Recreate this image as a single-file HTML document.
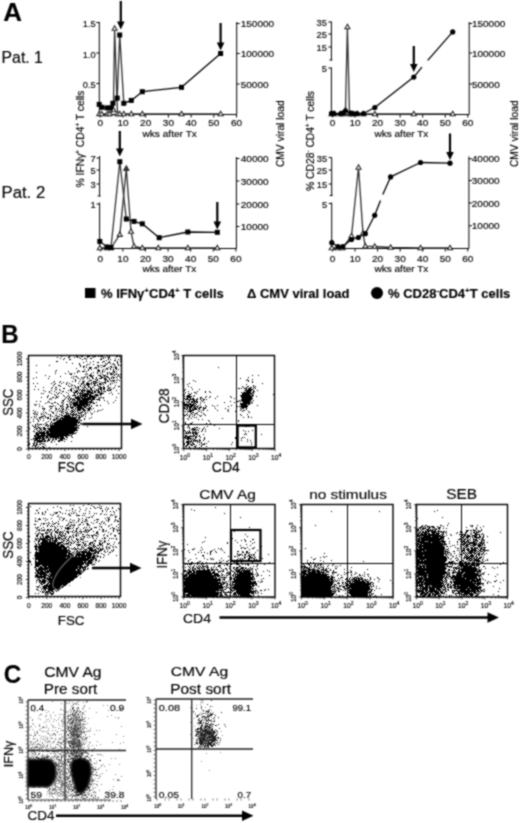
<!DOCTYPE html><html><head><meta charset="utf-8"><style>html,body{margin:0;padding:0;background:#fff;}svg{display:block;filter:grayscale(1)}text{font-family:"Liberation Sans",sans-serif;stroke:#000;stroke-width:0.15px}</style></head><body>
<svg width="520" height="823" viewBox="0 0 520 823">
<defs><filter id="b4" x="-5%" y="-5%" width="110%" height="110%"><feGaussianBlur stdDeviation="0.4"/></filter><filter id="b6" x="-5%" y="-5%" width="110%" height="110%"><feGaussianBlur stdDeviation="0.6"/></filter><filter id="b10" x="-10%" y="-10%" width="120%" height="120%"><feGaussianBlur stdDeviation="1.0"/></filter></defs>
<filter id="soft" color-interpolation-filters="sRGB" filterUnits="userSpaceOnUse" x="0" y="0" width="520" height="823"><feConvolveMatrix order="3" kernelMatrix="1 2 1 2 6 2 1 2 1" divisor="18" edgeMode="duplicate"/></filter>
<rect width="520" height="823" fill="#fff"/>
<g filter="url(#soft)"><rect width="520" height="823" fill="#fff"/>
<text transform="translate(3.25,20.50) scale(1.006,1)" font-size="25.81" font-weight="bold" >A</text>
<text transform="translate(1.60,62.90) scale(0.949,1)" font-size="16.63" >Pat. 1</text>
<text transform="translate(1.52,197.90) scale(0.973,1)" font-size="17.20" >Pat. 2</text>
<line x1="99.3" y1="22" x2="99.3" y2="114.5" stroke="#000" stroke-width="1" />
<line x1="236.7" y1="22" x2="236.7" y2="114.5" stroke="#000" stroke-width="1" />
<line x1="96.3" y1="22.5" x2="99.3" y2="22.5" stroke="#000" stroke-width="1" />
<text transform="translate(95.80,27.10) scale(1.0,1)" font-size="9.3" text-anchor="end">1.5</text>
<line x1="96.3" y1="53" x2="99.3" y2="53" stroke="#000" stroke-width="1" />
<text transform="translate(95.80,57.60) scale(1.0,1)" font-size="9.3" text-anchor="end">1.0</text>
<line x1="96.3" y1="83.5" x2="99.3" y2="83.5" stroke="#000" stroke-width="1" />
<text transform="translate(95.80,88.10) scale(1.0,1)" font-size="9.3" text-anchor="end">0.5</text>
<line x1="236.7" y1="23.5" x2="239.7" y2="23.5" stroke="#000" stroke-width="1" />
<text transform="translate(240.70,27.00) scale(1.08,1)" font-size="9.3" text-anchor="start">150000</text>
<line x1="236.7" y1="53.5" x2="239.7" y2="53.5" stroke="#000" stroke-width="1" />
<text transform="translate(240.70,57.00) scale(1.08,1)" font-size="9.3" text-anchor="start">100000</text>
<line x1="236.7" y1="84" x2="239.7" y2="84" stroke="#000" stroke-width="1" />
<text transform="translate(240.70,87.50) scale(1.08,1)" font-size="9.3" text-anchor="start">50000</text>
<line x1="99.3" y1="114.5" x2="236.7" y2="114.5" stroke="#000" stroke-width="1" />
<line x1="100.3" y1="114.5" x2="100.3" y2="117.5" stroke="#000" stroke-width="1" />
<text transform="translate(100.30,126.20) scale(1.08,1)" font-size="9.3" text-anchor="middle">0</text>
<line x1="123.0" y1="114.5" x2="123.0" y2="117.5" stroke="#000" stroke-width="1" />
<text transform="translate(123.00,126.20) scale(1.08,1)" font-size="9.3" text-anchor="middle">10</text>
<line x1="145.7" y1="114.5" x2="145.7" y2="117.5" stroke="#000" stroke-width="1" />
<text transform="translate(145.70,126.20) scale(1.08,1)" font-size="9.3" text-anchor="middle">20</text>
<line x1="168.39999999999998" y1="114.5" x2="168.39999999999998" y2="117.5" stroke="#000" stroke-width="1" />
<text transform="translate(168.40,126.20) scale(1.08,1)" font-size="9.3" text-anchor="middle">30</text>
<line x1="191.1" y1="114.5" x2="191.1" y2="117.5" stroke="#000" stroke-width="1" />
<text transform="translate(191.10,126.20) scale(1.08,1)" font-size="9.3" text-anchor="middle">40</text>
<line x1="213.8" y1="114.5" x2="213.8" y2="117.5" stroke="#000" stroke-width="1" />
<text transform="translate(213.80,126.20) scale(1.08,1)" font-size="9.3" text-anchor="middle">50</text>
<line x1="236.5" y1="114.5" x2="236.5" y2="117.5" stroke="#000" stroke-width="1" />
<text transform="translate(236.50,126.20) scale(1.08,1)" font-size="9.3" text-anchor="middle">60</text>
<text transform="translate(142.43,137.20) scale(1.081,1)" font-size="9.40" >wks after Tx</text>
<polyline points="99.3,114.0 101.6,114.0 107.5,114.0 109.6,114.0 113.4,110.0 114.6,28.5 117.5,114.0 119.7,114.0 123.8,114.0 131.3,114.0 142.3,114.0 181.5,114.0 220.6,114.0" fill="none" stroke="#303030" stroke-width="1.3" stroke-linejoin="round" />
<path d="M99.3 111.3L101.8 115.8L96.8 115.8Z" fill="#fff" stroke="#222" stroke-width="1.1"/>
<path d="M101.6 111.3L104.1 115.8L99.1 115.8Z" fill="#fff" stroke="#222" stroke-width="1.1"/>
<path d="M107.5 111.3L110.0 115.8L105.0 115.8Z" fill="#fff" stroke="#222" stroke-width="1.1"/>
<path d="M109.6 111.3L112.1 115.8L107.1 115.8Z" fill="#fff" stroke="#222" stroke-width="1.1"/>
<path d="M113.4 107.3L115.9 111.8L110.9 111.8Z" fill="#fff" stroke="#222" stroke-width="1.1"/>
<path d="M114.6 25.8L117.1 30.3L112.1 30.3Z" fill="#fff" stroke="#222" stroke-width="1.1"/>
<path d="M117.5 111.3L120.0 115.8L115.0 115.8Z" fill="#fff" stroke="#222" stroke-width="1.1"/>
<path d="M119.7 111.3L122.2 115.8L117.2 115.8Z" fill="#fff" stroke="#222" stroke-width="1.1"/>
<path d="M123.8 111.3L126.3 115.8L121.3 115.8Z" fill="#fff" stroke="#222" stroke-width="1.1"/>
<path d="M131.3 111.3L133.8 115.8L128.8 115.8Z" fill="#fff" stroke="#222" stroke-width="1.1"/>
<path d="M142.3 111.3L144.8 115.8L139.8 115.8Z" fill="#fff" stroke="#222" stroke-width="1.1"/>
<path d="M181.5 111.3L184.0 115.8L179.0 115.8Z" fill="#fff" stroke="#222" stroke-width="1.1"/>
<path d="M220.6 111.3L223.1 115.8L218.1 115.8Z" fill="#fff" stroke="#222" stroke-width="1.1"/>
<polyline points="99.2,104.4 101.9,107.3 107.1,107.9 110.6,107.9 112.9,103.3 117.2,98.1" fill="none" stroke="#000" stroke-width="1.2" stroke-linejoin="round" />
<polyline points="117.2,98.1 119.7,35.0 123.8,103.3" fill="none" stroke="#303030" stroke-width="1.3" stroke-linejoin="round" />
<polyline points="123.8,103.3 131.3,100.4 142.3,91.7 181.5,87.3 220.6,53.5" fill="none" stroke="#000" stroke-width="1.3" stroke-linejoin="round" />
<rect x="96.7" y="101.9" width="5" height="5" fill="#000"/>
<rect x="99.4" y="104.8" width="5" height="5" fill="#000"/>
<rect x="104.6" y="105.4" width="5" height="5" fill="#000"/>
<rect x="108.1" y="105.4" width="5" height="5" fill="#000"/>
<rect x="110.4" y="100.8" width="5" height="5" fill="#000"/>
<rect x="114.7" y="95.6" width="5" height="5" fill="#000"/>
<rect x="117.2" y="32.5" width="5" height="5" fill="#000"/>
<rect x="121.3" y="100.8" width="5" height="5" fill="#000"/>
<rect x="128.8" y="97.9" width="5" height="5" fill="#000"/>
<rect x="139.8" y="89.2" width="5" height="5" fill="#000"/>
<rect x="179.0" y="84.8" width="5" height="5" fill="#000"/>
<rect x="218.1" y="51.0" width="5" height="5" fill="#000"/>
<line x1="120.8" y1="1" x2="120.8" y2="22.5" stroke="#000" stroke-width="2.2" />
<path d="M117.0 21.5L124.6 21.5L120.8 29.5Z" fill="#000"/>
<line x1="220.6" y1="23" x2="220.6" y2="43.5" stroke="#000" stroke-width="2.2" />
<path d="M216.8 42.5L224.4 42.5L220.6 50.5Z" fill="#000"/>
<line x1="331.4" y1="21.5" x2="331.4" y2="60" stroke="#000" stroke-width="1" />
<line x1="329.4" y1="60" x2="332.4" y2="60" stroke="#000" stroke-width="1" />
<line x1="331.4" y1="67.5" x2="331.4" y2="114.5" stroke="#000" stroke-width="1" />
<line x1="469.2" y1="22" x2="469.2" y2="114.5" stroke="#000" stroke-width="1" />
<line x1="328.4" y1="22" x2="331.4" y2="22" stroke="#000" stroke-width="1" />
<text transform="translate(326.90,26.20) scale(1.0,1)" font-size="9.3" text-anchor="end">35</text>
<line x1="328.4" y1="34" x2="331.4" y2="34" stroke="#000" stroke-width="1" />
<text transform="translate(326.90,38.20) scale(1.0,1)" font-size="9.3" text-anchor="end">25</text>
<line x1="328.4" y1="47" x2="331.4" y2="47" stroke="#000" stroke-width="1" />
<text transform="translate(326.90,51.20) scale(1.0,1)" font-size="9.3" text-anchor="end">15</text>
<line x1="328.4" y1="68" x2="331.4" y2="68" stroke="#000" stroke-width="1" />
<text transform="translate(326.90,72.20) scale(1.0,1)" font-size="9.3" text-anchor="end">5</text>
<line x1="469.2" y1="23.5" x2="472.2" y2="23.5" stroke="#000" stroke-width="1" />
<text transform="translate(471.90,27.00) scale(1.08,1)" font-size="9.3" text-anchor="start">150000</text>
<line x1="469.2" y1="53" x2="472.2" y2="53" stroke="#000" stroke-width="1" />
<text transform="translate(471.90,56.50) scale(1.08,1)" font-size="9.3" text-anchor="start">100000</text>
<line x1="469.2" y1="84" x2="472.2" y2="84" stroke="#000" stroke-width="1" />
<text transform="translate(471.90,87.50) scale(1.08,1)" font-size="9.3" text-anchor="start">50000</text>
<line x1="331.4" y1="114.5" x2="469.2" y2="114.5" stroke="#000" stroke-width="1" />
<line x1="332.5" y1="114.5" x2="332.5" y2="117.5" stroke="#000" stroke-width="1" />
<text transform="translate(332.50,126.20) scale(1.08,1)" font-size="9.3" text-anchor="middle">0</text>
<line x1="355.05" y1="114.5" x2="355.05" y2="117.5" stroke="#000" stroke-width="1" />
<text transform="translate(355.05,126.20) scale(1.08,1)" font-size="9.3" text-anchor="middle">10</text>
<line x1="377.6" y1="114.5" x2="377.6" y2="117.5" stroke="#000" stroke-width="1" />
<text transform="translate(377.60,126.20) scale(1.08,1)" font-size="9.3" text-anchor="middle">20</text>
<line x1="400.15" y1="114.5" x2="400.15" y2="117.5" stroke="#000" stroke-width="1" />
<text transform="translate(400.15,126.20) scale(1.08,1)" font-size="9.3" text-anchor="middle">30</text>
<line x1="422.7" y1="114.5" x2="422.7" y2="117.5" stroke="#000" stroke-width="1" />
<text transform="translate(422.70,126.20) scale(1.08,1)" font-size="9.3" text-anchor="middle">40</text>
<line x1="445.25" y1="114.5" x2="445.25" y2="117.5" stroke="#000" stroke-width="1" />
<text transform="translate(445.25,126.20) scale(1.08,1)" font-size="9.3" text-anchor="middle">50</text>
<line x1="467.79999999999995" y1="114.5" x2="467.79999999999995" y2="117.5" stroke="#000" stroke-width="1" />
<text transform="translate(467.80,126.20) scale(1.08,1)" font-size="9.3" text-anchor="middle">60</text>
<text transform="translate(374.43,137.20) scale(1.069,1)" font-size="9.40" >wks after Tx</text>
<polyline points="331.5,114.0 334.0,114.0 340.8,114.0 343.0,114.0 345.5,110.0 347.4,27.0 349.5,114.0 351.0,114.0 353.0,114.0 357.0,114.0 363.5,114.0 374.8,114.0 413.8,114.0 452.7,114.0" fill="none" stroke="#303030" stroke-width="1.3" stroke-linejoin="round" />
<path d="M331.5 111.3L334.0 115.8L329.0 115.8Z" fill="#fff" stroke="#222" stroke-width="1.1"/>
<path d="M334.0 111.3L336.5 115.8L331.5 115.8Z" fill="#fff" stroke="#222" stroke-width="1.1"/>
<path d="M340.8 111.3L343.3 115.8L338.3 115.8Z" fill="#fff" stroke="#222" stroke-width="1.1"/>
<path d="M343.0 111.3L345.5 115.8L340.5 115.8Z" fill="#fff" stroke="#222" stroke-width="1.1"/>
<path d="M345.5 107.3L348.0 111.8L343.0 111.8Z" fill="#fff" stroke="#222" stroke-width="1.1"/>
<path d="M347.4 24.3L349.9 28.8L344.9 28.8Z" fill="#fff" stroke="#222" stroke-width="1.1"/>
<path d="M349.5 111.3L352.0 115.8L347.0 115.8Z" fill="#fff" stroke="#222" stroke-width="1.1"/>
<path d="M351.0 111.3L353.5 115.8L348.5 115.8Z" fill="#fff" stroke="#222" stroke-width="1.1"/>
<path d="M353.0 111.3L355.5 115.8L350.5 115.8Z" fill="#fff" stroke="#222" stroke-width="1.1"/>
<path d="M357.0 111.3L359.5 115.8L354.5 115.8Z" fill="#fff" stroke="#222" stroke-width="1.1"/>
<path d="M363.5 111.3L366.0 115.8L361.0 115.8Z" fill="#fff" stroke="#222" stroke-width="1.1"/>
<path d="M374.8 111.3L377.3 115.8L372.3 115.8Z" fill="#fff" stroke="#222" stroke-width="1.1"/>
<path d="M413.8 111.3L416.3 115.8L411.3 115.8Z" fill="#fff" stroke="#222" stroke-width="1.1"/>
<path d="M452.7 111.3L455.2 115.8L450.2 115.8Z" fill="#fff" stroke="#222" stroke-width="1.1"/>
<polyline points="331.5,113.4 333.8,113.4 340.8,113.6 343.0,113.0 345.4,111.0 350.8,113.0 353.0,113.5 357.0,113.5 363.5,113.5 374.8,107.5 413.8,77.1" fill="none" stroke="#000" stroke-width="1.3" stroke-linejoin="round" />
<polyline points="413.8,77.1 421.9,67.1" fill="none" stroke="#000" stroke-width="1.3" stroke-linejoin="round" />
<polyline points="427.7,60.4 452.7,31.9" fill="none" stroke="#000" stroke-width="1.3" stroke-linejoin="round" />
<circle cx="331.5" cy="113.4" r="2.6" fill="#000"/>
<circle cx="333.8" cy="113.4" r="2.6" fill="#000"/>
<circle cx="340.8" cy="113.6" r="2.6" fill="#000"/>
<circle cx="343.0" cy="113.0" r="2.6" fill="#000"/>
<circle cx="345.4" cy="111.0" r="2.6" fill="#000"/>
<circle cx="350.8" cy="113.0" r="2.6" fill="#000"/>
<circle cx="353.0" cy="113.5" r="2.6" fill="#000"/>
<circle cx="357.0" cy="113.5" r="2.6" fill="#000"/>
<circle cx="363.5" cy="113.5" r="2.6" fill="#000"/>
<circle cx="374.8" cy="107.5" r="2.6" fill="#000"/>
<circle cx="413.8" cy="77.1" r="2.6" fill="#000"/>
<circle cx="452.7" cy="31.9" r="2.6" fill="#000"/>
<line x1="413.8" y1="46" x2="413.8" y2="65" stroke="#000" stroke-width="2.2" />
<path d="M410.0 64.0L417.6 64.0L413.8 72.0Z" fill="#000"/>
<line x1="99.6" y1="156" x2="99.6" y2="196" stroke="#000" stroke-width="1" />
<line x1="97.6" y1="196" x2="100.6" y2="196" stroke="#000" stroke-width="1" />
<line x1="99.6" y1="202.5" x2="99.6" y2="248.5" stroke="#000" stroke-width="1" />
<line x1="236.4" y1="157" x2="236.4" y2="248.5" stroke="#000" stroke-width="1" />
<line x1="96.6" y1="158" x2="99.6" y2="158" stroke="#000" stroke-width="1" />
<text transform="translate(95.60,162.20) scale(1.0,1)" font-size="9.3" text-anchor="end">7</text>
<line x1="96.6" y1="170" x2="99.6" y2="170" stroke="#000" stroke-width="1" />
<text transform="translate(95.60,174.20) scale(1.0,1)" font-size="9.3" text-anchor="end">5</text>
<line x1="96.6" y1="184" x2="99.6" y2="184" stroke="#000" stroke-width="1" />
<text transform="translate(95.60,188.20) scale(1.0,1)" font-size="9.3" text-anchor="end">3</text>
<line x1="96.6" y1="204" x2="99.6" y2="204" stroke="#000" stroke-width="1" />
<text transform="translate(95.60,208.20) scale(1.0,1)" font-size="9.3" text-anchor="end">1</text>
<line x1="236.4" y1="158.5" x2="239.4" y2="158.5" stroke="#000" stroke-width="1" />
<text transform="translate(240.80,162.00) scale(1.08,1)" font-size="9.3" text-anchor="start">40000</text>
<line x1="236.4" y1="181" x2="239.4" y2="181" stroke="#000" stroke-width="1" />
<text transform="translate(240.80,184.50) scale(1.08,1)" font-size="9.3" text-anchor="start">30000</text>
<line x1="236.4" y1="204" x2="239.4" y2="204" stroke="#000" stroke-width="1" />
<text transform="translate(240.80,207.50) scale(1.08,1)" font-size="9.3" text-anchor="start">20000</text>
<line x1="236.4" y1="226.5" x2="239.4" y2="226.5" stroke="#000" stroke-width="1" />
<text transform="translate(240.80,230.00) scale(1.08,1)" font-size="9.3" text-anchor="start">10000</text>
<line x1="99.6" y1="248.5" x2="236.4" y2="248.5" stroke="#000" stroke-width="1" />
<line x1="100.3" y1="248.5" x2="100.3" y2="251.5" stroke="#000" stroke-width="1" />
<text transform="translate(100.30,261.60) scale(1.08,1)" font-size="9.3" text-anchor="middle">0</text>
<line x1="122.89999999999999" y1="248.5" x2="122.89999999999999" y2="251.5" stroke="#000" stroke-width="1" />
<text transform="translate(122.90,261.60) scale(1.08,1)" font-size="9.3" text-anchor="middle">10</text>
<line x1="145.5" y1="248.5" x2="145.5" y2="251.5" stroke="#000" stroke-width="1" />
<text transform="translate(145.50,261.60) scale(1.08,1)" font-size="9.3" text-anchor="middle">20</text>
<line x1="168.1" y1="248.5" x2="168.1" y2="251.5" stroke="#000" stroke-width="1" />
<text transform="translate(168.10,261.60) scale(1.08,1)" font-size="9.3" text-anchor="middle">30</text>
<line x1="190.7" y1="248.5" x2="190.7" y2="251.5" stroke="#000" stroke-width="1" />
<text transform="translate(190.70,261.60) scale(1.08,1)" font-size="9.3" text-anchor="middle">40</text>
<line x1="213.29999999999998" y1="248.5" x2="213.29999999999998" y2="251.5" stroke="#000" stroke-width="1" />
<text transform="translate(213.30,261.60) scale(1.08,1)" font-size="9.3" text-anchor="middle">50</text>
<line x1="235.89999999999998" y1="248.5" x2="235.89999999999998" y2="251.5" stroke="#000" stroke-width="1" />
<text transform="translate(235.90,261.60) scale(1.08,1)" font-size="9.3" text-anchor="middle">60</text>
<text transform="translate(142.43,271.80) scale(1.067,1)" font-size="9.40" >wks after Tx</text>
<polyline points="99.8,248.0 107.0,248.0 111.0,248.0 119.8,234.6 126.3,168.5 131.0,231.5 134.0,246.3 142.3,248.0 158.3,248.0 187.8,248.0 217.3,248.0" fill="none" stroke="#303030" stroke-width="1.3" stroke-linejoin="round" />
<path d="M99.8 245.3L102.3 249.8L97.3 249.8Z" fill="#fff" stroke="#222" stroke-width="1.1"/>
<path d="M107.0 245.3L109.5 249.8L104.5 249.8Z" fill="#fff" stroke="#222" stroke-width="1.1"/>
<path d="M111.0 245.3L113.5 249.8L108.5 249.8Z" fill="#fff" stroke="#222" stroke-width="1.1"/>
<path d="M119.8 231.9L122.3 236.4L117.3 236.4Z" fill="#fff" stroke="#222" stroke-width="1.1"/>
<path d="M126.3 165.8L128.8 170.3L123.8 170.3Z" fill="#fff" stroke="#222" stroke-width="1.1"/>
<path d="M131.0 228.8L133.5 233.3L128.5 233.3Z" fill="#fff" stroke="#222" stroke-width="1.1"/>
<path d="M134.0 243.6L136.5 248.1L131.5 248.1Z" fill="#fff" stroke="#222" stroke-width="1.1"/>
<path d="M142.3 245.3L144.8 249.8L139.8 249.8Z" fill="#fff" stroke="#222" stroke-width="1.1"/>
<path d="M158.3 245.3L160.8 249.8L155.8 249.8Z" fill="#fff" stroke="#222" stroke-width="1.1"/>
<path d="M187.8 245.3L190.3 249.8L185.3 249.8Z" fill="#fff" stroke="#222" stroke-width="1.1"/>
<path d="M217.3 245.3L219.8 249.8L214.8 249.8Z" fill="#fff" stroke="#222" stroke-width="1.1"/>
<path d="M126.3 165.8L129 171L123.6 171Z" fill="#333"/>
<polyline points="99.8,241.4 107.0,247.0 111.0,247.5" fill="none" stroke="#000" stroke-width="1.2" stroke-linejoin="round" />
<polyline points="111.0,247.5 119.8,161.7 126.3,219.0" fill="none" stroke="#303030" stroke-width="1.3" stroke-linejoin="round" />
<polyline points="126.3,219.0 134.0,221.4 142.3,223.8 159.2,237.7 187.8,232.0 217.3,232.3" fill="none" stroke="#000" stroke-width="1.3" stroke-linejoin="round" />
<rect x="97.3" y="238.9" width="5" height="5" fill="#000"/>
<rect x="104.5" y="244.5" width="5" height="5" fill="#000"/>
<rect x="108.5" y="245.0" width="5" height="5" fill="#000"/>
<rect x="117.3" y="159.2" width="5" height="5" fill="#000"/>
<rect x="123.8" y="216.5" width="5" height="5" fill="#000"/>
<rect x="131.5" y="218.9" width="5" height="5" fill="#000"/>
<rect x="139.8" y="221.3" width="5" height="5" fill="#000"/>
<rect x="156.7" y="235.2" width="5" height="5" fill="#000"/>
<rect x="185.3" y="229.5" width="5" height="5" fill="#000"/>
<rect x="214.8" y="229.8" width="5" height="5" fill="#000"/>
<line x1="119.8" y1="131" x2="119.8" y2="149.5" stroke="#000" stroke-width="2.2" />
<path d="M116.0 148.5L123.6 148.5L119.8 156.5Z" fill="#000"/>
<line x1="217.3" y1="202" x2="217.3" y2="222.5" stroke="#000" stroke-width="2.2" />
<path d="M213.5 221.5L221.1 221.5L217.3 229.5Z" fill="#000"/>
<line x1="331.7" y1="157.5" x2="331.7" y2="195.5" stroke="#000" stroke-width="1" />
<line x1="329.7" y1="195.5" x2="332.7" y2="195.5" stroke="#000" stroke-width="1" />
<line x1="331.7" y1="202.5" x2="331.7" y2="248.5" stroke="#000" stroke-width="1" />
<line x1="468.9" y1="156.5" x2="468.9" y2="248.5" stroke="#000" stroke-width="1" />
<line x1="328.7" y1="157.5" x2="331.7" y2="157.5" stroke="#000" stroke-width="1" />
<text transform="translate(327.20,161.70) scale(1.0,1)" font-size="9.3" text-anchor="end">35</text>
<line x1="328.7" y1="170" x2="331.7" y2="170" stroke="#000" stroke-width="1" />
<text transform="translate(327.20,174.20) scale(1.0,1)" font-size="9.3" text-anchor="end">25</text>
<line x1="328.7" y1="184" x2="331.7" y2="184" stroke="#000" stroke-width="1" />
<text transform="translate(327.20,188.20) scale(1.0,1)" font-size="9.3" text-anchor="end">15</text>
<line x1="328.7" y1="203.5" x2="331.7" y2="203.5" stroke="#000" stroke-width="1" />
<text transform="translate(327.20,207.70) scale(1.0,1)" font-size="9.3" text-anchor="end">5</text>
<line x1="468.9" y1="158.75" x2="471.9" y2="158.75" stroke="#000" stroke-width="1" />
<text transform="translate(471.80,162.25) scale(1.08,1)" font-size="9.3" text-anchor="start">40000</text>
<line x1="468.9" y1="180.5" x2="471.9" y2="180.5" stroke="#000" stroke-width="1" />
<text transform="translate(471.80,184.00) scale(1.08,1)" font-size="9.3" text-anchor="start">30000</text>
<line x1="468.9" y1="203" x2="471.9" y2="203" stroke="#000" stroke-width="1" />
<text transform="translate(471.80,206.50) scale(1.08,1)" font-size="9.3" text-anchor="start">20000</text>
<line x1="468.9" y1="225.75" x2="471.9" y2="225.75" stroke="#000" stroke-width="1" />
<text transform="translate(471.80,229.25) scale(1.08,1)" font-size="9.3" text-anchor="start">10000</text>
<line x1="331.7" y1="248.5" x2="468.9" y2="248.5" stroke="#000" stroke-width="1" />
<line x1="332.5" y1="248.5" x2="332.5" y2="251.5" stroke="#000" stroke-width="1" />
<text transform="translate(332.50,261.60) scale(1.08,1)" font-size="9.3" text-anchor="middle">0</text>
<line x1="355.05" y1="248.5" x2="355.05" y2="251.5" stroke="#000" stroke-width="1" />
<text transform="translate(355.05,261.60) scale(1.08,1)" font-size="9.3" text-anchor="middle">10</text>
<line x1="377.6" y1="248.5" x2="377.6" y2="251.5" stroke="#000" stroke-width="1" />
<text transform="translate(377.60,261.60) scale(1.08,1)" font-size="9.3" text-anchor="middle">20</text>
<line x1="400.15" y1="248.5" x2="400.15" y2="251.5" stroke="#000" stroke-width="1" />
<text transform="translate(400.15,261.60) scale(1.08,1)" font-size="9.3" text-anchor="middle">30</text>
<line x1="422.7" y1="248.5" x2="422.7" y2="251.5" stroke="#000" stroke-width="1" />
<text transform="translate(422.70,261.60) scale(1.08,1)" font-size="9.3" text-anchor="middle">40</text>
<line x1="445.25" y1="248.5" x2="445.25" y2="251.5" stroke="#000" stroke-width="1" />
<text transform="translate(445.25,261.60) scale(1.08,1)" font-size="9.3" text-anchor="middle">50</text>
<line x1="467.79999999999995" y1="248.5" x2="467.79999999999995" y2="251.5" stroke="#000" stroke-width="1" />
<text transform="translate(467.80,261.60) scale(1.08,1)" font-size="9.3" text-anchor="middle">60</text>
<text transform="translate(374.43,271.80) scale(1.069,1)" font-size="9.40" >wks after Tx</text>
<polyline points="331.8,248.0 337.5,248.0 342.5,248.0 351.5,236.0 358.5,167.5 363.0,233.4 365.3,246.2 374.7,246.5 390.6,247.5 420.5,248.0 450.0,248.0" fill="none" stroke="#303030" stroke-width="1.3" stroke-linejoin="round" />
<path d="M331.8 245.3L334.2 249.8L329.2 249.8Z" fill="#fff" stroke="#222" stroke-width="1.1"/>
<path d="M337.5 245.3L340.0 249.8L335.0 249.8Z" fill="#fff" stroke="#222" stroke-width="1.1"/>
<path d="M342.5 245.3L345.0 249.8L340.0 249.8Z" fill="#fff" stroke="#222" stroke-width="1.1"/>
<path d="M351.5 233.3L354.0 237.8L349.0 237.8Z" fill="#fff" stroke="#222" stroke-width="1.1"/>
<path d="M358.5 164.8L361.0 169.3L356.0 169.3Z" fill="#fff" stroke="#222" stroke-width="1.1"/>
<path d="M363.0 230.7L365.5 235.2L360.5 235.2Z" fill="#fff" stroke="#222" stroke-width="1.1"/>
<path d="M365.3 243.5L367.8 248.0L362.8 248.0Z" fill="#fff" stroke="#222" stroke-width="1.1"/>
<path d="M374.7 243.8L377.2 248.3L372.2 248.3Z" fill="#fff" stroke="#222" stroke-width="1.1"/>
<path d="M390.6 244.8L393.1 249.3L388.1 249.3Z" fill="#fff" stroke="#222" stroke-width="1.1"/>
<path d="M420.5 245.3L423.0 249.8L418.0 249.8Z" fill="#fff" stroke="#222" stroke-width="1.1"/>
<path d="M450.0 245.3L452.5 249.8L447.5 249.8Z" fill="#fff" stroke="#222" stroke-width="1.1"/>
<polyline points="331.8,242.7 338.0,246.5 342.8,246.5 351.5,239.5 358.3,237.5 365.3,233.7 374.7,215.3" fill="none" stroke="#000" stroke-width="1.3" stroke-linejoin="round" />
<polyline points="374.7,215.3 380.5,200.5" fill="none" stroke="#000" stroke-width="1.3" stroke-linejoin="round" />
<polyline points="382.8,194.5 390.6,176.9 420.5,162.5 450.0,163.2" fill="none" stroke="#000" stroke-width="1.3" stroke-linejoin="round" />
<circle cx="331.8" cy="242.7" r="2.6" fill="#000"/>
<circle cx="338.0" cy="246.5" r="2.6" fill="#000"/>
<circle cx="342.8" cy="246.5" r="2.6" fill="#000"/>
<circle cx="351.5" cy="239.5" r="2.6" fill="#000"/>
<circle cx="358.3" cy="237.5" r="2.6" fill="#000"/>
<circle cx="365.3" cy="233.7" r="2.6" fill="#000"/>
<circle cx="374.7" cy="215.3" r="2.6" fill="#000"/>
<circle cx="390.6" cy="176.9" r="2.6" fill="#000"/>
<circle cx="420.5" cy="162.5" r="2.6" fill="#000"/>
<circle cx="450.0" cy="163.2" r="2.6" fill="#000"/>
<line x1="450" y1="133.5" x2="450" y2="153" stroke="#000" stroke-width="2.2" />
<path d="M446.2 152.0L453.8 152.0L450.0 160.0Z" fill="#000"/>
<text transform="translate(84,139) rotate(-90) scale(0.986,1)" font-size="10.5" text-anchor="middle">% IFN&#947;<tspan font-size="6.3" dy="-4">+</tspan><tspan dy="4"> CD4</tspan><tspan font-size="6.3" dy="-4">+</tspan><tspan dy="4"> T cells</tspan></text>
<text transform="translate(314.3,141) rotate(-90) scale(0.983,1)" font-size="10.5" text-anchor="middle">% CD28<tspan font-size="6.3" dy="-4">-</tspan><tspan dy="4"> CD4</tspan><tspan font-size="6.3" dy="-4">+</tspan><tspan dy="4"> T cells</tspan></text>
<text transform="translate(283.60,167.11) rotate(-90) scale(0.988,1)" font-size="10.40" >CMV viral load</text>
<text transform="translate(518.00,167.11) rotate(-90) scale(0.988,1)" font-size="10.40" >CMV viral load</text>
<rect x="85" y="288" width="10.5" height="10" fill="#000"/>
<text x="101" y="298" font-size="13" font-weight="bold">% IFN&#947;<tspan font-size="8" dy="-5">+</tspan><tspan dy="5">CD4</tspan><tspan font-size="8" dy="-5">+</tspan><tspan dy="5"> T cells</tspan></text>
<text x="247" y="298" font-size="13" font-weight="bold">&#916; CMV viral load</text>
<circle cx="377" cy="293" r="6" fill="#000"/>
<text x="388" y="298" font-size="13" font-weight="bold">% CD28<tspan font-size="8" dy="-5">-</tspan><tspan dy="5">CD4</tspan><tspan font-size="8" dy="-5">+</tspan><tspan dy="5">T cells</tspan></text>
<text transform="translate(1.27,342.50) scale(0.939,1)" font-size="25.66" font-weight="bold" >B</text>
<text transform="translate(3.63,683.00) scale(0.930,1)" font-size="26.09" font-weight="bold" >C</text>
<path d="M61 356h1m7 0h1m6 0h2m3 0h2m4 0h3m2 0h1m1 0h2m2 0h1m1 0h3m4 0h1m1 0h1m6 0h2m1 0h1m-63 1h1m10 0h2m4 0h1m2 0h1m1 0h1m7 0h1m5 0h1m9 0h1m1 0h1m2 0h2m10 0h1m-61 1h1m3 0h1m15 0h1m3 0h2m4 0h2m9 0h1m1 0h1m4 0h1m6 0h1m-53 1h1m5 0h2m11 0h1m3 0h1m13 0h2m6 0h1m1 0h1m7 0h1m1 0h1m-15 1h1m7 0h2m-60 1h2m28 0h1m6 0h1m9 0h2m4 0h1m7 0h1m2 0h1m-55 1h1m16 0h1m6 0h1m6 0h2m3 0h1m5 0h2m7 0h1m-46 1h1m6 0h1m25 0h1m1 0h1m2 0h1m2 0h1m3 0h1m-39 1h1m7 0h1m1 0h1m3 0h1m12 0h1m5 0h1m1 0h1m3 0h1m-83 1h1m12 0h1m30 0h1m5 0h1m10 0h2m1 0h1m1 0h1m1 0h2m8 0h1m3 0h1m1 0h1m-41 1h1m2 0h2m13 0h1m4 0h2m5 0h2m3 0h1m-33 1h1m2 0h1m2 0h3m3 0h2m1 0h1m2 0h1m6 0h1m2 0h1m1 0h1m1 0h2m-41 1h1m12 0h2m3 0h1m1 0h1m9 0h2m2 0h1m4 0h2m-33 1h1m3 0h1m2 0h1m6 0h1m4 0h1m1 0h1m1 0h1m2 0h1m2 0h1m2 0h1m1 0h1m-63 1h1m21 0h1m9 0h1m8 0h3m2 0h1m10 0h1m-59 1h1m12 0h1m8 0h1m1 0h1m2 0h3m1 0h1m11 0h2m2 0h1m1 0h1m8 0h2m1 0h1m-81 1h1m40 0h1m15 0h1m3 0h1m4 0h1m4 0h1m1 0h1m2 0h1m1 0h1m-60 1h1m9 0h1m3 0h1m1 0h1m2 0h1m11 0h1m4 0h1m5 0h1m2 0h1m6 0h1m2 0h2m1 0h1m2 0h1m-47 1h2m13 0h1m1 0h1m2 0h1m11 0h1m4 0h1m2 0h3m1 0h1m1 0h1m1 0h1m1 0h1m-76 1h1m43 0h3m1 0h1m4 0h3m2 0h3m8 0h1m3 0h1m-70 1h1m10 0h1m12 0h1m1 0h2m8 0h1m1 0h1m2 0h3m7 0h2m2 0h1m1 0h2m4 0h1m4 0h1m1 0h1m-84 1h1m34 0h1m5 0h1m3 0h1m1 0h2m2 0h1m4 0h1m3 0h1m4 0h3m1 0h1m1 0h2m2 0h1m1 0h2m1 0h1m3 0h1m-88 1h1m14 0h1m24 0h1m4 0h1m3 0h1m4 0h1m1 0h1m2 0h2m2 0h1m2 0h3m2 0h2m3 0h1m1 0h1m1 0h1m-39 1h1m4 0h1m2 0h1m11 0h1m1 0h1m6 0h3m2 0h1m7 0h1m-43 1h1m13 0h3m4 0h2m7 0h1m1 0h1m2 0h1m1 0h3m1 0h1m2 0h1m-66 1h1m5 0h1m11 0h1m2 0h1m3 0h1m2 0h3m3 0h1m4 0h3m3 0h1m5 0h1m1 0h2m2 0h1m1 0h1m-61 1h1m5 0h1m3 0h1m3 0h1m15 0h1m3 0h1m3 0h1m1 0h1m1 0h3m3 0h1m1 0h3m8 0h1m1 0h1m-84 1h1m3 0h1m13 0h1m3 0h1m5 0h1m4 0h1m2 0h1m8 0h1m2 0h3m2 0h4m1 0h1m1 0h3m3 0h2m1 0h1m2 0h1m4 0h1m1 0h1m-59 1h1m11 0h1m4 0h1m9 0h1m2 0h1m1 0h4m1 0h1m2 0h1m2 0h1m1 0h3m1 0h1m6 0h1m-58 1h1m4 0h2m8 0h1m3 0h1m1 0h1m5 0h1m2 0h1m1 0h1m1 0h2m5 0h2m1 0h1m10 0h1m6 0h1m-81 1h1m24 0h1m8 0h1m1 0h1m3 0h1m2 0h1m1 0h1m3 0h1m3 0h2m3 0h1m4 0h3m2 0h1m3 0h1m10 0h2m-77 1h1m8 0h1m2 0h2m18 0h1m1 0h2m3 0h1m1 0h2m2 0h1m1 0h1m1 0h1m7 0h2m1 0h2m3 0h1m1 0h1m3 0h1m-64 1h1m11 0h2m6 0h1m1 0h1m2 0h1m1 0h1m4 0h1m2 0h1m3 0h2m2 0h1m3 0h4m1 0h2m3 0h2m3 0h1m-80 1h1m3 0h1m16 0h2m2 0h1m10 0h2m6 0h1m1 0h1m1 0h1m1 0h1m2 0h1m2 0h2m4 0h1m1 0h1m1 0h2m1 0h2m2 0h1m2 0h2m-69 1h1m7 0h1m8 0h1m7 0h1m1 0h2m2 0h1m1 0h2m1 0h1m1 0h5m1 0h3m1 0h2m1 0h1m1 0h3m2 0h1m5 0h4m5 0h1m-72 1h1m3 0h1m4 0h1m7 0h2m7 0h1m3 0h3m3 0h2m1 0h1m1 0h5m1 0h1m1 0h2m2 0h2m1 0h1m1 0h3m-57 1h1m6 0h1m2 0h1m6 0h1m6 0h4m1 0h1m1 0h1m1 0h2m3 0h6m1 0h2m1 0h3m1 0h1m9 0h1m-71 1h1m1 0h1m7 0h1m6 0h1m2 0h1m6 0h1m5 0h1m2 0h1m1 0h4m1 0h5m1 0h4m5 0h5m5 0h1m8 0h1m-65 1h1m2 0h1m16 0h1m2 0h1m2 0h1m1 0h9m4 0h3m2 0h2m10 0h1m-65 1h1m6 0h1m7 0h1m4 0h1m3 0h4m3 0h9m1 0h4m1 0h5m1 0h1m-54 1h1m8 0h1m1 0h1m5 0h1m2 0h1m1 0h1m5 0h1m1 0h2m1 0h1m1 0h6m1 0h6m1 0h1m-56 1h1m5 0h1m4 0h2m2 0h2m8 0h1m2 0h1m5 0h8m1 0h2m1 0h9m2 0h1m1 0h2m1 0h1m12 0h1m-67 1h1m4 0h1m9 0h1m2 0h1m1 0h2m1 0h1m1 0h5m1 0h10m1 0h3m4 0h1m3 0h1m-55 1h1m1 0h1m12 0h1m3 0h1m1 0h1m1 0h3m2 0h4m1 0h13m1 0h4m-38 1h2m5 0h1m2 0h1m1 0h2m1 0h12m2 0h2m6 0h1m4 0h1m10 0h1m-80 1h1m3 0h1m7 0h1m14 0h1m3 0h1m1 0h1m1 0h1m1 0h1m2 0h2m1 0h9m1 0h3m15 0h1m-61 1h1m1 0h1m4 0h2m5 0h2m7 0h2m1 0h21m2 0h1m16 0h1m-69 1h1m5 0h2m4 0h1m5 0h1m5 0h1m2 0h6m1 0h9m2 0h1m2 0h2m13 0h1m-75 1h1m1 0h1m2 0h1m18 0h1m3 0h1m3 0h2m2 0h2m1 0h17m-55 1h1m17 0h1m6 0h1m1 0h1m4 0h1m2 0h1m2 0h12m1 0h2m1 0h1m1 0h1m4 0h2m2 0h1m-62 1h1m2 0h1m6 0h4m2 0h1m4 0h2m1 0h1m3 0h2m1 0h1m1 0h1m1 0h2m1 0h5m1 0h4m1 0h1m2 0h1m-30 1h1m3 0h2m2 0h4m2 0h7m1 0h2m3 0h2m-49 1h3m5 0h2m3 0h2m2 0h1m1 0h1m1 0h1m2 0h1m4 0h2m2 0h1m1 0h7m2 0h5m2 0h1m-50 1h1m11 0h1m1 0h1m3 0h2m2 0h1m1 0h1m4 0h1m1 0h1m1 0h4m1 0h3m3 0h2m1 0h1m10 0h1m-70 1h1m9 0h1m5 0h1m5 0h1m4 0h1m1 0h1m2 0h1m5 0h2m1 0h1m2 0h4m2 0h3m1 0h3m8 0h1m1 0h1m-66 1h1m15 0h1m5 0h1m1 0h1m1 0h1m1 0h1m3 0h1m2 0h1m1 0h2m1 0h1m1 0h1m4 0h1m1 0h1m9 0h1m2 0h1m-64 1h1m2 0h1m5 0h1m1 0h1m6 0h2m7 0h2m2 0h2m4 0h2m1 0h1m3 0h1m1 0h3m2 0h1m1 0h1m2 0h1m-58 1h1m1 0h1m5 0h1m4 0h1m6 0h1m2 0h1m6 0h1m2 0h3m1 0h1m2 0h1m2 0h1m1 0h3m4 0h1m6 0h1m-59 1h1m1 0h2m3 0h1m1 0h1m4 0h1m1 0h1m8 0h1m1 0h1m4 0h1m1 0h1m1 0h7m4 0h1m1 0h1m1 0h1m5 0h1m-48 1h1m5 0h1m4 0h2m4 0h2m1 0h6m2 0h2m1 0h1m1 0h3m1 0h1m1 0h1m-50 1h1m1 0h1m4 0h3m1 0h1m4 0h1m1 0h1m4 0h3m3 0h8m1 0h1m3 0h1m2 0h1m1 0h2m2 0h1m-55 1h1m2 0h1m4 0h3m3 0h1m1 0h2m5 0h1m1 0h1m4 0h2m1 0h13m1 0h3m10 0h1m-56 1h1m2 0h1m3 0h1m3 0h2m1 0h1m5 0h3m1 0h16m2 0h2m4 0h1m4 0h1m-57 1h1m3 0h1m2 0h1m9 0h1m2 0h4m2 0h2m1 0h16m1 0h1m4 0h1m-47 1h1m4 0h1m9 0h2m2 0h22m1 0h2m-49 1h1m4 0h1m9 0h1m2 0h1m4 0h22m1 0h1m-50 1h1m15 0h1m4 0h1m2 0h26m-43 1h1m7 0h1m4 0h1m1 0h25m1 0h1m1 0h2m-47 1h1m1 0h1m1 0h3m1 0h1m2 0h2m2 0h1m1 0h1m1 0h23m4 0h1m-50 1h1m2 0h1m2 0h1m6 0h2m1 0h1m1 0h30m-47 1h1m1 0h1m1 0h1m9 0h2m1 0h25m1 0h1m10 0h1m-54 1h2m2 0h2m1 0h1m1 0h2m5 0h29m-50 1h1m6 0h2m1 0h2m2 0h3m1 0h30m1 0h1m-45 1h1m1 0h1m3 0h2m1 0h3m2 0h29m-40 1h1m1 0h1m1 0h1m3 0h1m1 0h1m1 0h29m-45 1h2m3 0h2m1 0h1m1 0h2m1 0h29m-39 1h2m1 0h6m1 0h3m1 0h24m2 0h1m-42 1h41m-40 1h3m2 0h4m2 0h22m1 0h1m1 0h1m-39 1h36m1 0h1m-38 1h2m1 0h8m1 0h2m1 0h15m1 0h2m4 0h1m-37 1h6m1 0h2m1 0h4m1 0h9m1 0h4m2 0h2m4 0h1m-40 1h12m1 0h1m1 0h1m1 0h1m2 0h1m1 0h2m1 0h7m-34 1h1m1 0h1m1 0h3m1 0h1m2 0h3m3 0h2m2 0h2m1 0h2m3 0h3m1 0h1m1 0h1m-33 1h9m1 0h2m1 0h3m2 0h1m5 0h5m-29 1h1m2 0h9m1 0h1m3 0h1m2 0h1m3 0h2m4 0h1m6 0h1m-38 1h1m1 0h2m1 0h2m10 0h1m-23 1h1m3 0h2m1 0h1m4 0h2m1 0h1m-16 1h1m3 0h1m2 0h2m1 0h2m2 0h1m12 0h1m-24 1h4m8 0h1m-14 1h1m2 0h1m2 0h1m3 0h2m-9 1h1m1 0h1m2 0h1m2 0h2m4 0h1" stroke="#000" stroke-width="1" fill="none" transform="translate(0 .5)" shape-rendering="crispEdges"/>
<rect x="28.5" y="355.5" width="93.0" height="93.0" fill="none" stroke="#000" stroke-width="1.4"/>
<path d="M28.8 448.5L28.8 451.1M25.9 449.0L28.5 449.0M32.4 448.5L32.4 450.1M26.9 445.4L28.5 445.4M36.0 448.5L36.0 450.1M26.9 441.8L28.5 441.8M39.6 448.5L39.6 450.1M26.9 438.2L28.5 438.2M43.2 448.5L43.2 450.1M26.9 434.6L28.5 434.6M46.8 448.5L46.8 451.1M25.9 431.0L28.5 431.0M50.4 448.5L50.4 450.1M26.9 427.4L28.5 427.4M54.1 448.5L54.1 450.1M26.9 423.8L28.5 423.8M57.7 448.5L57.7 450.1M26.9 420.2L28.5 420.2M61.3 448.5L61.3 450.1M26.9 416.6L28.5 416.6M64.9 448.5L64.9 451.1M25.9 413.0L28.5 413.0M68.5 448.5L68.5 450.1M26.9 409.4L28.5 409.4M72.1 448.5L72.1 450.1M26.9 405.8L28.5 405.8M75.7 448.5L75.7 450.1M26.9 402.2L28.5 402.2M79.3 448.5L79.3 450.1M26.9 398.6L28.5 398.6M82.9 448.5L82.9 451.1M25.9 395.0L28.5 395.0M86.5 448.5L86.5 450.1M26.9 391.4L28.5 391.4M90.1 448.5L90.1 450.1M26.9 387.8L28.5 387.8M93.7 448.5L93.7 450.1M26.9 384.2L28.5 384.2M97.4 448.5L97.4 450.1M26.9 380.6L28.5 380.6M101.0 448.5L101.0 451.1M25.9 377.0L28.5 377.0M104.6 448.5L104.6 450.1M26.9 373.4L28.5 373.4M108.2 448.5L108.2 450.1M26.9 369.8L28.5 369.8M111.8 448.5L111.8 450.1M26.9 366.2L28.5 366.2M115.4 448.5L115.4 450.1M26.9 362.6L28.5 362.6M119.0 448.5L119.0 451.1M25.9 359.0L28.5 359.0" stroke="#000" stroke-width="0.8" fill="none"/>
<text x="28.8" y="459.4" font-size="6.6" text-anchor="middle" stroke="#000" stroke-width="0.25">0</text>
<text transform="translate(22.3,449.0) rotate(-90)" font-size="6.6" text-anchor="middle" stroke="#000" stroke-width="0.25">0</text>
<text x="46.8" y="459.4" font-size="6.6" text-anchor="middle" stroke="#000" stroke-width="0.25">200</text>
<text transform="translate(22.3,431.0) rotate(-90)" font-size="6.6" text-anchor="middle" stroke="#000" stroke-width="0.25">200</text>
<text x="64.9" y="459.4" font-size="6.6" text-anchor="middle" stroke="#000" stroke-width="0.25">400</text>
<text transform="translate(22.3,413.0) rotate(-90)" font-size="6.6" text-anchor="middle" stroke="#000" stroke-width="0.25">400</text>
<text x="82.9" y="459.4" font-size="6.6" text-anchor="middle" stroke="#000" stroke-width="0.25">600</text>
<text transform="translate(22.3,395.0) rotate(-90)" font-size="6.6" text-anchor="middle" stroke="#000" stroke-width="0.25">600</text>
<text x="101.0" y="459.4" font-size="6.6" text-anchor="middle" stroke="#000" stroke-width="0.25">800</text>
<text transform="translate(22.3,377.0) rotate(-90)" font-size="6.6" text-anchor="middle" stroke="#000" stroke-width="0.25">800</text>
<text x="119.0" y="459.4" font-size="6.6" text-anchor="middle" stroke="#000" stroke-width="0.25">1000</text>
<text transform="translate(22.3,359.0) rotate(-90)" font-size="6.6" text-anchor="middle" stroke="#000" stroke-width="0.25">1000</text>
<text transform="translate(13.10,415.79) rotate(-90) scale(0.941,1)" font-size="14.05" >SSC</text>
<text transform="translate(57.69,472.30) scale(0.978,1)" font-size="13.76" >FSC</text>
<path d="M82.5 424H132.0" stroke="#000" stroke-width="2.4"/>
<path d="M131.0 418.7L142.5 424L131.0 429.3Z" fill="#000"/>
<path d="M218 367h1m33 8h1m5 0h1m-11 2h1m-9 1h1m6 1h1m4 0h1m-60 1h1m52 0h1m1 0h1m-54 1h1m52 0h1m3 0h1m-1 1h1m-64 1h1m72 0h1m-76 1h1m58 0h1m6 1h1m-66 1h1m53 0h1m4 0h2m4 0h1m1 0h1m-65 1h1m51 0h1m2 0h1m3 0h2m2 0h1m-17 1h2m1 0h1m2 0h3m1 0h3m2 0h1m1 0h1m-71 1h1m6 0h1m6 0h1m46 0h1m1 0h5m-69 1h1m59 0h8m1 0h1m3 0h1m-70 1h1m8 0h1m7 0h1m3 0h1m36 0h5m2 0h2m-70 1h1m8 0h2m9 0h1m4 0h1m30 0h1m1 0h8m1 0h2m-66 1h1m2 0h1m4 0h1m45 0h10m1 0h1m-70 1h1m4 0h2m51 0h8m1 0h2m20 0h1m-87 1h3m4 0h1m45 0h11m1 0h2m-70 1h1m1 0h6m1 0h1m12 0h1m3 0h1m6 0h1m12 0h1m5 0h1m4 0h12m3 0h1m-70 1h4m9 0h2m3 0h1m3 0h1m21 0h1m9 0h11m-68 1h1m1 0h2m2 0h1m1 0h2m3 0h1m2 0h1m1 0h1m12 0h1m18 0h1m7 0h11m-68 1h10m1 0h2m2 0h1m2 0h2m1 0h1m34 0h11m-63 1h1m3 0h2m1 0h1m4 0h1m1 0h1m35 0h1m1 0h10m2 0h1m-68 1h1m1 0h2m1 0h7m4 0h1m27 0h1m6 0h2m1 0h1m1 0h8m1 0h1m-68 1h1m2 0h2m2 0h2m1 0h1m1 0h2m2 0h1m3 0h1m19 0h1m9 0h1m8 0h8m1 0h1m-69 1h1m1 0h1m2 0h2m2 0h3m44 0h10m1 0h1m-68 1h10m2 0h1m3 0h1m39 0h7m1 0h2m-66 1h5m1 0h6m2 0h1m6 0h1m6 0h1m4 0h1m13 0h1m9 0h7m9 0h1m-73 1h1m1 0h6m1 0h1m1 0h2m2 0h1m5 0h1m7 0h1m13 0h1m8 0h1m1 0h9m-64 1h1m1 0h2m1 0h3m1 0h3m1 0h1m1 0h3m1 0h1m1 0h1m35 0h6m-63 1h2m1 0h1m1 0h2m1 0h1m1 0h3m1 0h2m3 0h3m9 0h1m9 0h1m14 0h1m1 0h2m2 0h1m-61 1h2m1 0h2m1 0h5m2 0h1m3 0h1m24 0h1m12 0h1m4 0h1m-58 1h5m4 0h1m2 0h1m1 0h1m3 0h1m9 0h1m9 0h1m12 0h1m2 0h2m-60 1h1m1 0h5m7 0h1m28 0h1m6 0h2m5 0h1m5 0h1m-59 1h1m1 0h2m3 0h1m3 0h1m47 0h1m-63 1h1m3 0h1m3 0h2m6 0h1m-18 1h1m3 0h1m1 0h1m1 0h1m2 0h1m6 0h1m35 0h1m6 0h1m-64 1h2m1 0h1m1 0h1m4 0h1m4 0h1m1 0h1m3 0h1m35 0h1m-53 1h1m2 0h1m7 0h1m47 0h1m-60 1h1m4 0h1m1 0h1m46 0h1m4 0h1m2 0h1m-65 1h1m3 0h1m30 0h1m13 0h1m-49 1h1m9 0h1m3 0h1m5 1h1m29 0h1m-30 1h1m28 0h1m-54 1h1m6 0h1m-8 1h1m4 0h2m14 0h1m3 0h1m-26 1h1m4 0h1m9 0h1m47 0h1m-61 1h1m25 0h1m27 0h1m-55 1h1m18 0h1m37 0h2m1 0h1m-62 1h1m1 0h1m4 0h1m1 0h2m6 0h1m-16 1h1m2 0h2m1 0h1m3 0h1m3 0h1m15 0h1m-29 1h5m1 0h1m4 0h1m2 0h1m-22 1h1m4 0h1m3 0h2m1 0h1m1 0h1m3 0h1m40 0h1m8 0h1m-68 1h1m1 0h1m1 0h1m2 0h1m2 0h1m5 0h1m3 0h1m39 0h1m2 0h1m-63 1h1m1 0h3m1 0h5m1 0h1m-14 1h4m1 0h1m1 0h2m1 0h3m47 0h1m-53 1h1m1 0h2m6 0h1m40 0h1m1 0h1m14 0h1m-77 1h2m3 0h1m2 0h2m2 0h1m1 0h1m-15 1h9m1 0h2m2 0h1m-16 1h2m1 0h3m5 0h2m3 0h1m3 0h1m30 0h1m6 0h1m1 0h1m-60 1h7m1 0h1m1 0h1m8 0h1m30 0h1m5 0h1m-55 1h2m1 0h1m1 0h1m1 0h1m4 0h1m4 0h1m42 0h1m-60 1h1m2 0h1m1 0h5m1 0h2m2 0h1m37 0h1m8 0h1m-65 1h6m1 0h1m1 0h1m1 0h1m1 0h1m8 0h1m38 0h1m-62 1h3m1 0h1m1 0h1m4 0h1m1 0h1m1 0h1m30 0h1m18 0h1m-68 1h1m2 0h3m2 0h2m7 0h1m2 0h1m1 0h1m-23 1h1m2 0h2m1 0h2m1 0h2m4 0h1m2 0h3m26 0h1m19 0h1m-66 1h2m3 0h2m3 0h1m4 0h1m-17 1h2m2 0h1m4 0h2m5 0h1m4 0h1m-18 1h1m5 0h1m3 0h1m38 0h1" stroke="#000" stroke-width="1" fill="none" transform="translate(0 .5)" shape-rendering="crispEdges"/>
<rect x="183.5" y="355.5" width="91.0" height="93.0" fill="none" stroke="#000" stroke-width="1.4"/>
<path d="M236.5 355.5V448.5" stroke="#000" stroke-width="1"/>
<path d="M183.5 424.5H274.5" stroke="#000" stroke-width="1"/>
<rect x="237.6" y="425.6" width="18.2" height="21.8" fill="none" stroke="#000" stroke-width="2.2"/>
<text x="184.9" y="459.6" font-size="6.7" text-anchor="middle">10<tspan font-size="5.0" dy="-2.8">0</tspan></text>
<text transform="translate(178.6,448.8) rotate(-90)" font-size="6.7" text-anchor="middle">10<tspan font-size="5.0" dy="-2.8">0</tspan></text>
<text x="207.8" y="459.6" font-size="6.7" text-anchor="middle">10<tspan font-size="5.0" dy="-2.8">1</tspan></text>
<text transform="translate(178.6,425.4) rotate(-90)" font-size="6.7" text-anchor="middle">10<tspan font-size="5.0" dy="-2.8">1</tspan></text>
<text x="230.6" y="459.6" font-size="6.7" text-anchor="middle">10<tspan font-size="5.0" dy="-2.8">2</tspan></text>
<text transform="translate(178.6,402.1) rotate(-90)" font-size="6.7" text-anchor="middle">10<tspan font-size="5.0" dy="-2.8">2</tspan></text>
<text x="253.4" y="459.6" font-size="6.7" text-anchor="middle">10<tspan font-size="5.0" dy="-2.8">3</tspan></text>
<text transform="translate(178.6,378.8) rotate(-90)" font-size="6.7" text-anchor="middle">10<tspan font-size="5.0" dy="-2.8">3</tspan></text>
<text x="276.2" y="459.6" font-size="6.7" text-anchor="middle">10<tspan font-size="5.0" dy="-2.8">4</tspan></text>
<text transform="translate(178.6,355.5) rotate(-90)" font-size="6.7" text-anchor="middle">10<tspan font-size="5.0" dy="-2.8">4</tspan></text>
<path d="M183.8 448.8L183.8 451.1M181.3 448.8L183.8 448.8M190.6 448.8L190.6 450.1M182.3 441.7L183.8 441.7M194.6 448.8L194.6 450.1M182.3 437.6L183.8 437.6M197.5 448.8L197.5 450.1M182.3 434.7L183.8 434.7M199.7 448.8L199.7 450.1M182.3 432.5L183.8 432.5M201.5 448.8L201.5 450.1M182.3 430.6L183.8 430.6M203.0 448.8L203.0 450.1M182.3 429.0L183.8 429.0M204.4 448.8L204.4 450.1M182.3 427.7L183.8 427.7M205.5 448.8L205.5 450.1M182.3 426.5L183.8 426.5M206.6 448.8L206.6 451.1M181.3 425.4L183.8 425.4M213.4 448.8L213.4 450.1M182.3 418.4L183.8 418.4M217.4 448.8L217.4 450.1M182.3 414.3L183.8 414.3M220.3 448.8L220.3 450.1M182.3 411.4L183.8 411.4M222.5 448.8L222.5 450.1M182.3 409.1L183.8 409.1M224.3 448.8L224.3 450.1M182.3 407.3L183.8 407.3M225.8 448.8L225.8 450.1M182.3 405.7L183.8 405.7M227.2 448.8L227.2 450.1M182.3 404.4L183.8 404.4M228.3 448.8L228.3 450.1M182.3 403.2L183.8 403.2M229.4 448.8L229.4 451.1M181.3 402.1L183.8 402.1M236.2 448.8L236.2 450.1M182.3 395.1L183.8 395.1M240.3 448.8L240.3 450.1M182.3 391.0L183.8 391.0M243.1 448.8L243.1 450.1M182.3 388.1L183.8 388.1M245.3 448.8L245.3 450.1M182.3 385.8L183.8 385.8M247.1 448.8L247.1 450.1M182.3 384.0L183.8 384.0M248.7 448.8L248.7 450.1M182.3 382.4L183.8 382.4M250.0 448.8L250.0 450.1M182.3 381.1L183.8 381.1M251.1 448.8L251.1 450.1M182.3 379.9L183.8 379.9M252.2 448.8L252.2 451.1M181.3 378.8L183.8 378.8M259.1 448.8L259.1 450.1M182.3 371.8L183.8 371.8M263.1 448.8L263.1 450.1M182.3 367.7L183.8 367.7M265.9 448.8L265.9 450.1M182.3 364.8L183.8 364.8M268.1 448.8L268.1 450.1M182.3 362.5L183.8 362.5M269.9 448.8L269.9 450.1M182.3 360.7L183.8 360.7M271.5 448.8L271.5 450.1M182.3 359.1L183.8 359.1M272.8 448.8L272.8 450.1M182.3 357.8L183.8 357.8M274.0 448.8L274.0 450.1M182.3 356.6L183.8 356.6M275.0 448.8L275.0 451.1M181.3 355.5L183.8 355.5" stroke="#000" stroke-width="0.7" fill="none"/>
<text transform="translate(168.80,423.49) rotate(-90) scale(0.954,1)" font-size="14.48" >CD28</text>
<text transform="translate(211.80,471.60) scale(1.017,1)" font-size="13.76" >CD4</text>
<path d="M88 504h1m-19 1h1m2 0h1m9 0h1m7 0h1m7 0h1m-70 1h1m26 0h1m35 0h1m7 0h1m-49 1h1m6 0h1m18 0h1m14 0h1m2 0h1m1 0h1m6 0h1m5 0h1m-74 1h1m21 0h1m10 0h1m13 0h1m3 0h1m4 0h1m4 0h2m6 0h1m3 0h1m5 0h1m-72 1h1m24 0h1m7 0h1m24 0h1m1 0h1m11 0h1m-84 1h2m28 0h1m2 0h1m5 0h1m9 0h1m16 0h1m13 0h1m-72 1h1m13 0h1m12 0h1m6 0h1m9 0h1m12 0h1m3 0h1m3 0h1m2 0h1m-76 1h1m3 0h1m2 0h1m8 0h1m1 0h2m2 0h1m13 0h1m39 0h1m-80 1h1m2 0h1m3 0h1m12 0h2m5 0h1m2 0h1m3 0h1m1 0h1m1 0h1m2 0h1m6 0h1m1 0h1m3 0h1m4 0h1m1 0h1m4 0h1m-60 1h1m1 0h1m5 0h1m2 0h1m14 0h1m31 0h1m3 0h1m1 0h1m4 0h1m2 0h1m-63 1h1m5 0h1m10 0h2m5 0h4m2 0h1m1 0h1m8 0h1m16 0h1m1 0h1m-56 1h1m33 0h1m23 0h2m-58 1h1m1 0h1m24 0h1m1 0h2m2 0h1m14 0h1m1 0h1m5 0h1m-81 1h1m3 0h1m3 0h1m1 0h1m5 0h1m11 0h2m13 0h1m3 0h1m22 0h1m2 0h1m10 0h1m-82 1h3m6 0h1m11 0h1m3 0h1m6 0h1m8 0h1m5 0h2m9 0h3m9 0h2m5 0h1m-81 1h1m9 0h1m16 0h1m3 0h1m5 0h1m1 0h1m3 0h1m3 0h1m3 0h1m7 0h1m11 0h1m1 0h1m6 0h1m1 0h1m-83 1h1m1 0h1m14 0h1m5 0h1m10 0h1m8 0h1m5 0h2m1 0h1m9 0h1m4 0h1m5 0h1m5 0h1m2 0h2m-71 1h1m7 0h1m13 0h2m1 0h1m2 0h1m4 0h2m8 0h1m4 0h1m4 0h1m2 0h1m-64 1h1m1 0h2m1 0h1m2 0h1m2 0h1m1 0h2m2 0h1m9 0h1m17 0h2m5 0h1m5 0h1m3 0h1m-70 1h2m7 0h1m4 0h1m4 0h1m4 0h1m9 0h1m2 0h1m2 0h1m4 0h2m2 0h1m3 0h2m11 0h1m4 0h1m5 0h1m6 0h1m-79 1h1m6 0h1m3 0h1m14 0h2m2 0h1m1 0h3m3 0h1m8 0h1m1 0h1m19 0h1m-63 1h1m2 0h1m1 0h1m1 0h1m2 0h1m2 0h1m1 0h1m6 0h2m28 0h1m1 0h1m6 0h1m7 0h1m-82 1h1m1 0h2m4 0h1m11 0h1m9 0h1m1 0h2m4 0h1m4 0h1m5 0h1m1 0h1m2 0h1m4 0h3m4 0h1m10 0h1m5 0h1m-83 1h1m4 0h1m13 0h1m5 0h1m3 0h6m1 0h1m3 0h2m5 0h1m7 0h1m18 0h1m2 0h2m-78 1h1m1 0h1m4 0h1m2 0h2m1 0h2m2 0h1m2 0h2m8 0h2m7 0h1m3 0h1m4 0h1m1 0h1m2 0h2m7 0h1m2 0h2m9 0h1m2 0h1m1 0h1m-81 1h2m1 0h4m2 0h2m1 0h1m3 0h1m2 0h1m6 0h1m8 0h1m2 0h1m8 0h2m1 0h2m13 0h1m2 0h1m6 0h1m3 0h1m1 0h1m-84 1h1m9 0h1m2 0h1m2 0h1m2 0h2m1 0h1m1 0h1m1 0h1m3 0h3m1 0h1m1 0h1m2 0h2m2 0h3m1 0h2m1 0h1m1 0h1m4 0h1m3 0h1m4 0h2m1 0h1m7 0h1m3 0h1m-79 1h1m5 0h1m1 0h1m1 0h1m1 0h1m3 0h3m1 0h3m1 0h1m3 0h2m3 0h1m1 0h1m2 0h1m3 0h1m3 0h1m1 0h1m8 0h2m10 0h1m-74 1h1m2 0h1m1 0h1m1 0h1m2 0h3m3 0h1m5 0h1m1 0h1m2 0h1m2 0h1m2 0h1m7 0h1m1 0h1m1 0h1m15 0h2m13 0h1m6 0h2m-83 1h2m2 0h3m6 0h2m2 0h1m4 0h2m1 0h1m2 0h1m7 0h1m2 0h1m5 0h2m3 0h1m6 0h1m3 0h1m5 0h1m5 0h1m-75 1h2m4 0h1m3 0h3m2 0h1m3 0h1m2 0h1m1 0h2m1 0h2m7 0h1m2 0h2m1 0h1m7 0h1m1 0h2m1 0h3m1 0h2m6 0h1m3 0h1m6 0h2m-87 1h1m6 0h2m2 0h1m1 0h2m1 0h5m1 0h2m2 0h1m2 0h1m2 0h2m1 0h1m1 0h1m2 0h2m2 0h1m2 0h1m5 0h3m7 0h1m4 0h1m9 0h1m7 0h1m-76 1h1m2 0h1m1 0h6m1 0h1m1 0h2m2 0h3m4 0h1m3 0h1m1 0h1m1 0h1m6 0h1m3 0h1m2 0h1m1 0h1m2 0h1m11 0h1m-70 1h1m1 0h2m1 0h8m2 0h4m1 0h5m1 0h1m1 0h3m2 0h1m7 0h1m4 0h1m1 0h1m9 0h1m2 0h1m5 0h1m1 0h2m3 0h1m1 0h1m1 0h1m2 0h1m-82 1h2m2 0h7m1 0h4m1 0h1m2 0h2m2 0h1m1 0h2m3 0h1m1 0h1m2 0h1m4 0h3m1 0h3m33 0h1m-81 1h1m1 0h2m2 0h6m1 0h2m1 0h6m5 0h2m2 0h2m3 0h1m4 0h1m5 0h1m10 0h2m3 0h1m1 0h1m2 0h1m3 0h1m-80 1h1m4 0h1m3 0h2m2 0h6m1 0h2m1 0h1m1 0h3m4 0h1m1 0h1m2 0h1m2 0h1m3 0h1m1 0h1m2 0h1m1 0h1m4 0h1m1 0h1m5 0h1m1 0h1m4 0h1m3 0h2m-68 1h1m2 0h15m1 0h6m5 0h1m1 0h2m2 0h1m2 0h2m3 0h2m6 0h3m6 0h1m2 0h1m1 0h1m9 0h1m4 0h1m-85 1h1m2 0h1m1 0h16m1 0h4m2 0h1m1 0h4m2 0h1m1 0h1m9 0h1m1 0h1m3 0h2m1 0h1m1 0h1m4 0h2m1 0h1m4 0h1m1 0h1m8 0h1m-83 1h1m1 0h2m1 0h19m1 0h2m1 0h1m1 0h1m1 0h1m1 0h1m5 0h5m3 0h2m3 0h2m2 0h1m5 0h3m5 0h2m4 0h1m-79 1h2m2 0h20m1 0h4m6 0h1m7 0h2m2 0h1m1 0h1m1 0h1m1 0h1m2 0h1m1 0h2m2 0h2m1 0h1m1 0h1m7 0h1m-77 1h31m2 0h2m8 0h1m3 0h1m3 0h1m3 0h1m2 0h4m6 0h1m3 0h1m5 0h1m2 0h1m-81 1h2m1 0h29m1 0h1m5 0h1m7 0h2m4 0h4m1 0h2m1 0h1m2 0h1m6 0h1m1 0h2m3 0h1m2 0h1m-82 1h2m1 0h24m1 0h4m2 0h1m1 0h1m1 0h1m1 0h1m1 0h2m2 0h1m1 0h1m3 0h6m3 0h3m1 0h1m1 0h2m2 0h1m2 0h1m-75 1h3m1 0h28m1 0h1m3 0h1m1 0h3m2 0h3m2 0h3m2 0h4m1 0h2m2 0h1m1 0h3m4 0h1m5 0h1m-78 1h1m1 0h32m7 0h1m5 0h1m1 0h1m1 0h1m1 0h8m2 0h3m2 0h1m6 0h1m1 0h1m-78 1h1m2 0h29m1 0h2m3 0h1m1 0h11m1 0h2m1 0h3m1 0h5m4 0h1m2 0h1m4 0h1m-83 1h1m4 0h35m2 0h2m2 0h4m1 0h10m3 0h5m6 0h1m3 0h2m-76 1h32m1 0h4m2 0h7m1 0h3m1 0h10m1 0h2m2 0h1m-67 1h32m1 0h6m2 0h9m1 0h6m1 0h1m9 0h1m4 0h1m-75 1h36m1 0h3m1 0h17m1 0h5m6 0h1m11 0h1m-82 1h39m1 0h2m1 0h2m1 0h10m1 0h3m2 0h2m1 0h1m-66 1h31m1 0h19m1 0h10m3 0h1m2 0h1m-71 1h1m1 0h56m1 0h4m-61 1h54m1 0h4m1 0h2m-68 1h1m5 0h1m2 0h55m2 0h2m2 0h1m-71 1h2m4 0h2m1 0h45m1 0h2m2 0h4m1 0h1m4 0h1m-69 1h1m4 0h58m2 0h1m-61 1h49m1 0h1m1 0h5m-61 1h1m3 0h49m1 0h4m2 0h4m-60 1h5m2 0h40m5 0h2m-54 1h4m1 0h2m1 0h4m1 0h30m1 0h4m1 0h4m-54 1h2m3 0h4m1 0h42m-50 1h1m1 0h40m1 0h2m1 0h2m1 0h1m1 0h2m3 0h1m-58 1h2m1 0h10m1 0h27m1 0h4m2 0h3m1 0h1m-52 1h7m1 0h2m1 0h29m1 0h3m1 0h1m1 0h2m-49 1h3m1 0h4m1 0h37m1 0h1m-49 1h1m1 0h12m1 0h31m1 0h1m-48 1h1m1 0h9m1 0h1m1 0h1m1 0h31m-46 1h2m1 0h8m2 0h29m1 0h2m-46 1h4m1 0h2m1 0h6m1 0h27m1 0h1m-44 1h11m2 0h30m-43 1h1m1 0h9m1 0h1m1 0h2m1 0h25m3 0h1m-44 1h1m1 0h1m1 0h1m2 0h31m-37 1h2m2 0h3m2 0h27m-38 1h2m1 0h2m1 0h5m1 0h25m-34 1h7m1 0h1m1 0h22m-35 1h1m2 0h1m1 0h5m2 0h22m-30 1h2m1 0h2m2 0h2m1 0h18m-27 1h2m3 0h2m1 0h18m-28 1h1m4 0h18m1 0h3m3 0h1m-34 1h1m1 0h1m3 0h19m1 0h2m-27 1h2m1 0h1m2 0h4m1 0h12m1 0h2m-21 1h19m-25 1h2m3 0h1m2 0h2m2 0h7m1 0h4m-22 1h1m4 0h1m1 0h1m2 0h5m2 0h1m1 0h2m-19 1h1m1 0h1m1 0h1m1 0h4m1 0h3m2 0h1m-15 1h2m1 0h3m1 0h2m2 0h1m-19 1h1m2 0h1m6 0h1m1 0h2m1 0h4m-9 1h1m1 0h1m3 0h2m-7 1h1" stroke="#000" stroke-width="1" fill="none" transform="translate(0 .5)" shape-rendering="crispEdges"/>
<ellipse cx="75" cy="568" rx="29" ry="10.5" transform="rotate(-44 75 568)" fill="none" stroke="#fff" stroke-opacity="0.4" stroke-width="1.2"/>
<rect x="28.5" y="503.5" width="92.0" height="93.0" fill="none" stroke="#000" stroke-width="1.4"/>
<path d="M28.8 596.5L28.8 599.1M25.9 597.5L28.5 597.5M32.4 596.5L32.4 598.1M26.9 593.9L28.5 593.9M36.0 596.5L36.0 598.1M26.9 590.3L28.5 590.3M39.6 596.5L39.6 598.1M26.9 586.7L28.5 586.7M43.2 596.5L43.2 598.1M26.9 583.1L28.5 583.1M46.8 596.5L46.8 599.1M25.9 579.5L28.5 579.5M50.4 596.5L50.4 598.1M26.9 575.9L28.5 575.9M54.1 596.5L54.1 598.1M26.9 572.3L28.5 572.3M57.7 596.5L57.7 598.1M26.9 568.7L28.5 568.7M61.3 596.5L61.3 598.1M26.9 565.1L28.5 565.1M64.9 596.5L64.9 599.1M25.9 561.5L28.5 561.5M68.5 596.5L68.5 598.1M26.9 557.9L28.5 557.9M72.1 596.5L72.1 598.1M26.9 554.3L28.5 554.3M75.7 596.5L75.7 598.1M26.9 550.7L28.5 550.7M79.3 596.5L79.3 598.1M26.9 547.1L28.5 547.1M82.9 596.5L82.9 599.1M25.9 543.5L28.5 543.5M86.5 596.5L86.5 598.1M26.9 539.9L28.5 539.9M90.1 596.5L90.1 598.1M26.9 536.3L28.5 536.3M93.7 596.5L93.7 598.1M26.9 532.7L28.5 532.7M97.4 596.5L97.4 598.1M26.9 529.1L28.5 529.1M101.0 596.5L101.0 599.1M25.9 525.5L28.5 525.5M104.6 596.5L104.6 598.1M26.9 521.9L28.5 521.9M108.2 596.5L108.2 598.1M26.9 518.3L28.5 518.3M111.8 596.5L111.8 598.1M26.9 514.7L28.5 514.7M115.4 596.5L115.4 598.1M26.9 511.1L28.5 511.1M119.0 596.5L119.0 599.1M25.9 507.5L28.5 507.5" stroke="#000" stroke-width="0.8" fill="none"/>
<text x="28.8" y="607.8" font-size="6.6" text-anchor="middle" stroke="#000" stroke-width="0.25">0</text>
<text transform="translate(22.3,597.5) rotate(-90)" font-size="6.6" text-anchor="middle" stroke="#000" stroke-width="0.25">0</text>
<text x="46.8" y="607.8" font-size="6.6" text-anchor="middle" stroke="#000" stroke-width="0.25">200</text>
<text transform="translate(22.3,579.5) rotate(-90)" font-size="6.6" text-anchor="middle" stroke="#000" stroke-width="0.25">200</text>
<text x="64.9" y="607.8" font-size="6.6" text-anchor="middle" stroke="#000" stroke-width="0.25">400</text>
<text transform="translate(22.3,561.5) rotate(-90)" font-size="6.6" text-anchor="middle" stroke="#000" stroke-width="0.25">400</text>
<text x="82.9" y="607.8" font-size="6.6" text-anchor="middle" stroke="#000" stroke-width="0.25">600</text>
<text transform="translate(22.3,543.5) rotate(-90)" font-size="6.6" text-anchor="middle" stroke="#000" stroke-width="0.25">600</text>
<text x="101.0" y="607.8" font-size="6.6" text-anchor="middle" stroke="#000" stroke-width="0.25">800</text>
<text transform="translate(22.3,525.5) rotate(-90)" font-size="6.6" text-anchor="middle" stroke="#000" stroke-width="0.25">800</text>
<text x="119.0" y="607.8" font-size="6.6" text-anchor="middle" stroke="#000" stroke-width="0.25">1000</text>
<text transform="translate(22.3,507.5) rotate(-90)" font-size="6.6" text-anchor="middle" stroke="#000" stroke-width="0.25">1000</text>
<text transform="translate(13.40,558.70) rotate(-90) scale(0.923,1)" font-size="14.48" >SSC</text>
<text transform="translate(57.69,624.70) scale(1.020,1)" font-size="13.19" >FSC</text>
<path d="M92 568H131.0" stroke="#000" stroke-width="2.4"/>
<path d="M130.0 562.7L141.5 568L130.0 573.3Z" fill="#000"/>
<path d="M215 507h1m-25 2h1m2 1h1m29 3h1m15 4h1m8 10h1m-16 4h1m10 3h1m1 2h1m-43 1h1m26 1h1m11 1h1m7 0h2m-19 1h1m5 0h1m3 0h1m-42 1h1m40 0h1m4 0h1m-49 1h1m24 0h1m9 0h1m16 0h1m-28 1h1m24 0h1m-66 1h1m58 0h1m-7 1h1m9 0h1m10 1h1m-61 1h1m39 0h1m1 0h1m3 0h1m6 0h1m-61 1h1m23 0h1m2 0h1m9 0h1m9 0h1m2 0h2m6 0h2m-70 1h1m7 0h2m8 0h1m11 0h1m5 0h1m28 0h1m-62 1h1m11 0h1m11 0h1m9 0h1m34 0h1m-48 1h2m3 0h1m21 0h2m3 0h1m3 0h2m-59 1h1m8 0h1m2 0h1m2 0h1m5 0h1m5 0h1m7 0h1m17 0h2m2 0h2m1 0h1m5 0h1m-49 1h1m2 0h1m26 0h1m8 0h1m1 0h1m-54 1h1m14 0h1m26 0h1m1 0h3m2 0h2m3 0h1m1 0h1m1 0h2m13 0h1m-67 1h2m34 0h2m2 0h1m2 0h1m2 0h2m1 0h1m1 0h1m-51 1h1m24 0h1m5 0h2m1 0h1m6 0h1m2 0h1m1 0h2m3 0h1m-11 1h2m3 0h4m2 0h1m3 0h1m-75 1h1m10 0h1m7 0h1m5 0h1m1 0h1m8 0h1m16 0h1m1 0h1m1 0h1m1 0h1m3 0h2m1 0h1m1 0h2m7 0h1m-73 1h1m16 0h1m3 0h1m1 0h1m23 0h1m2 0h1m1 0h1m5 0h2m4 0h1m1 0h1m3 0h1m-73 1h1m30 0h1m3 0h1m4 0h1m2 0h1m1 0h1m1 0h1m2 0h1m1 0h1m1 0h1m2 0h2m2 0h2m3 0h1m-67 1h1m10 0h2m20 0h1m4 0h2m13 0h1m1 0h1m2 0h1m7 0h1m-64 1h2m4 0h2m3 0h1m3 0h1m9 0h1m2 0h2m13 0h1m1 0h2m3 0h1m10 0h1m16 0h1m-84 1h1m11 0h1m3 0h1m17 0h1m8 0h1m7 0h2m1 0h1m3 0h1m13 0h1m-74 1h1m1 0h1m1 0h3m5 0h1m3 0h1m1 0h1m10 0h1m11 0h2m3 0h1m4 0h3m3 0h1m2 0h1m1 0h2m8 0h1m6 0h1m-71 1h1m4 0h1m2 0h1m3 0h2m10 0h3m3 0h1m2 0h1m11 0h1m8 0h1m8 0h1m-70 1h1m1 0h1m2 0h1m2 0h1m1 0h1m1 0h1m1 0h4m1 0h1m6 0h1m3 0h2m9 0h1m9 0h2m12 0h1m2 0h1m-72 1h1m3 0h1m2 0h2m3 0h1m1 0h1m1 0h1m1 0h1m2 0h3m2 0h1m1 0h1m2 0h1m3 0h1m12 0h2m1 0h3m2 0h3m1 0h1m4 0h1m-61 1h1m1 0h1m1 0h2m1 0h3m1 0h2m1 0h1m2 0h1m3 0h1m9 0h1m3 0h2m2 0h1m3 0h1m2 0h2m2 0h4m1 0h2m1 0h1m1 0h1m1 0h1m4 0h1m-70 1h2m2 0h2m1 0h1m3 0h1m3 0h2m2 0h3m1 0h3m1 0h3m5 0h1m2 0h1m7 0h3m1 0h3m1 0h1m1 0h1m2 0h1m1 0h1m1 0h2m2 0h1m-72 1h2m1 0h1m1 0h2m1 0h3m1 0h14m1 0h2m1 0h1m2 0h1m3 0h1m1 0h1m3 0h1m3 0h1m4 0h4m1 0h10m5 0h1m10 0h1m-84 1h3m1 0h4m1 0h2m1 0h15m2 0h2m3 0h3m1 0h2m8 0h2m1 0h7m1 0h7m2 0h1m10 0h1m5 0h1m-83 1h5m1 0h18m1 0h3m3 0h1m8 0h3m4 0h1m2 0h14m1 0h1m3 0h1m-71 1h4m1 0h4m1 0h22m3 0h1m4 0h2m1 0h2m3 0h2m1 0h1m1 0h14m4 0h1m-73 1h2m1 0h24m2 0h5m3 0h1m5 0h2m3 0h1m1 0h19m1 0h1m1 0h1m-74 1h4m1 0h31m1 0h2m1 0h1m1 0h2m4 0h2m1 0h1m1 0h14m1 0h1m4 0h2m2 0h1m7 0h1m-86 1h3m1 0h28m1 0h3m10 0h1m2 0h1m1 0h16m1 0h2m2 0h1m-73 1h1m1 0h28m1 0h2m3 0h7m2 0h3m2 0h20m-70 1h33m1 0h2m4 0h1m5 0h2m1 0h2m1 0h17m1 0h1m8 0h1m-80 1h37m1 0h3m4 0h3m1 0h22m6 0h1m-77 1h36m3 0h1m9 0h17m1 0h1m-69 1h34m1 0h1m2 0h1m3 0h1m1 0h1m3 0h20m1 0h3m2 0h1m2 0h2m-79 1h37m1 0h4m6 0h24m4 0h1m-77 1h38m1 0h2m1 0h2m4 0h1m2 0h22m-73 1h35m1 0h4m3 0h1m1 0h1m2 0h22m1 0h2m-73 1h38m4 0h2m3 0h2m1 0h17m1 0h3m1 0h1m-72 1h38m1 0h1m1 0h1m6 0h21m4 0h1m-75 1h40m1 0h1m1 0h2m2 0h21m-68 1h39m3 0h1m2 0h1m2 0h22m1 0h1m-72 1h35m1 0h1m1 0h1m1 0h2m5 0h1m2 0h17m1 0h1m12 0h1m2 0h1m-85 1h40m7 0h4m1 0h16m1 0h1m1 0h2m3 0h2m2 0h1m-81 1h32m1 0h1m3 0h1m1 0h1m4 0h1m3 0h1m3 0h20m1 0h1m-74 1h38m1 0h7m1 0h1m2 0h20m1 0h1m2 0h1m-75 1h1m3 0h31m1 0h2m3 0h1m7 0h3m1 0h13m1 0h3m1 0h1m1 0h1m3 0h1m-78 1h35m1 0h2m2 0h3m6 0h4m1 0h12m3 0h1m-70 1h1m1 0h4m1 0h27m1 0h4m3 0h2m1 0h1m2 0h1m1 0h1m1 0h1m1 0h1m1 0h12m1 0h1m4 0h1m-75 1h2m1 0h32m1 0h1m1 0h1m1 0h1m8 0h19m1 0h1" stroke="#000" stroke-width="1" fill="none" transform="translate(0 .5)" shape-rendering="crispEdges"/>
<rect x="183.5" y="504.5" width="91.5" height="92.5" fill="none" stroke="#000" stroke-width="1.4"/>
<path d="M230.5 504.5V597" stroke="#000" stroke-width="1"/>
<path d="M183.5 563.5H275" stroke="#000" stroke-width="1"/>
<text x="184.7" y="607.5" font-size="6.7" text-anchor="middle">10<tspan font-size="5.0" dy="-2.8">0</tspan></text>
<text transform="translate(178.0,597.0) rotate(-90)" font-size="6.7" text-anchor="middle">10<tspan font-size="5.0" dy="-2.8">0</tspan></text>
<text x="207.6" y="607.5" font-size="6.7" text-anchor="middle">10<tspan font-size="5.0" dy="-2.8">1</tspan></text>
<text transform="translate(178.0,573.9) rotate(-90)" font-size="6.7" text-anchor="middle">10<tspan font-size="5.0" dy="-2.8">1</tspan></text>
<text x="230.4" y="607.5" font-size="6.7" text-anchor="middle">10<tspan font-size="5.0" dy="-2.8">2</tspan></text>
<text transform="translate(178.0,550.8) rotate(-90)" font-size="6.7" text-anchor="middle">10<tspan font-size="5.0" dy="-2.8">2</tspan></text>
<text x="253.3" y="607.5" font-size="6.7" text-anchor="middle">10<tspan font-size="5.0" dy="-2.8">3</tspan></text>
<text transform="translate(178.0,527.6) rotate(-90)" font-size="6.7" text-anchor="middle">10<tspan font-size="5.0" dy="-2.8">3</tspan></text>
<text x="276.2" y="607.5" font-size="6.7" text-anchor="middle">10<tspan font-size="5.0" dy="-2.8">4</tspan></text>
<text transform="translate(178.0,504.5) rotate(-90)" font-size="6.7" text-anchor="middle">10<tspan font-size="5.0" dy="-2.8">4</tspan></text>
<path d="M183.5 597.0L183.5 599.4M181.1 597.0L183.5 597.0M190.4 597.0L190.4 598.4M182.1 590.0L183.5 590.0M194.4 597.0L194.4 598.4M182.1 586.0L183.5 586.0M197.3 597.0L197.3 598.4M182.1 583.1L183.5 583.1M199.5 597.0L199.5 598.4M182.1 580.8L183.5 580.8M201.3 597.0L201.3 598.4M182.1 579.0L183.5 579.0M202.8 597.0L202.8 598.4M182.1 577.5L183.5 577.5M204.2 597.0L204.2 598.4M182.1 576.1L183.5 576.1M205.3 597.0L205.3 598.4M182.1 574.9L183.5 574.9M206.4 597.0L206.4 599.4M181.1 573.9L183.5 573.9M213.3 597.0L213.3 598.4M182.1 566.9L183.5 566.9M217.3 597.0L217.3 598.4M182.1 562.8L183.5 562.8M220.1 597.0L220.1 598.4M182.1 560.0L183.5 560.0M222.4 597.0L222.4 598.4M182.1 557.7L183.5 557.7M224.2 597.0L224.2 598.4M182.1 555.9L183.5 555.9M225.7 597.0L225.7 598.4M182.1 554.3L183.5 554.3M227.0 597.0L227.0 598.4M182.1 553.0L183.5 553.0M228.2 597.0L228.2 598.4M182.1 551.8L183.5 551.8M229.2 597.0L229.2 599.4M181.1 550.8L183.5 550.8M236.1 597.0L236.1 598.4M182.1 543.8L183.5 543.8M240.2 597.0L240.2 598.4M182.1 539.7L183.5 539.7M243.0 597.0L243.0 598.4M182.1 536.8L183.5 536.8M245.2 597.0L245.2 598.4M182.1 534.6L183.5 534.6M247.1 597.0L247.1 598.4M182.1 532.8L183.5 532.8M248.6 597.0L248.6 598.4M182.1 531.2L183.5 531.2M249.9 597.0L249.9 598.4M182.1 529.9L183.5 529.9M251.1 597.0L251.1 598.4M182.1 528.7L183.5 528.7M252.1 597.0L252.1 599.4M181.1 527.6L183.5 527.6M259.0 597.0L259.0 598.4M182.1 520.7L183.5 520.7M263.0 597.0L263.0 598.4M182.1 516.6L183.5 516.6M265.9 597.0L265.9 598.4M182.1 513.7L183.5 513.7M268.1 597.0L268.1 598.4M182.1 511.5L183.5 511.5M269.9 597.0L269.9 598.4M182.1 509.6L183.5 509.6M271.5 597.0L271.5 598.4M182.1 508.1L183.5 508.1M272.8 597.0L272.8 598.4M182.1 506.7L183.5 506.7M274.0 597.0L274.0 598.4M182.1 505.6L183.5 505.6M275.0 597.0L275.0 599.4M181.1 504.5L183.5 504.5" stroke="#000" stroke-width="0.7" fill="none"/>
<rect x="231" y="530" width="29.5" height="31" fill="none" stroke="#000" stroke-width="2.2"/>
<text transform="translate(199.33,498.80) scale(1.144,1)" font-size="13.48" >CMV Ag</text>
<text transform="translate(166.70,568.52) rotate(-90) scale(0.908,1)" font-size="14.48" >IFN&#947;</text>
<text transform="translate(183.00,622.50) scale(1.061,1)" font-size="13.19" >CD4</text>
<path d="M331 511h1m47 0h1m-65 14h1m-11 23h1m18 5h1m-2 3h1m2 0h1m-16 1h1m8 0h1m3 0h1m-10 1h1m-3 1h2m-8 1h1m12 0h1m10 0h1m-9 1h1m39 0h1m-57 1h1m2 0h1m2 0h1m-11 1h1m1 0h1m5 0h2m2 0h1m3 0h1m32 0h1m-50 1h1m4 0h2m5 0h1m2 0h1m1 0h2m11 0h1m-30 1h1m4 0h1m1 0h1m2 0h2m1 0h2m1 0h1m2 0h1m4 0h1m3 0h1m7 0h1m-39 1h4m4 0h1m3 0h1m1 0h1m4 0h1m5 0h1m7 0h1m1 0h1m-36 1h1m1 0h4m1 0h1m1 0h1m2 0h1m1 0h1m1 0h1m1 0h1m1 0h2m27 0h1m-49 1h2m1 0h4m3 0h1m4 0h2m3 0h1m2 0h1m1 0h1m6 0h2m-34 1h1m1 0h1m2 0h8m1 0h1m3 0h3m1 0h2m3 0h1m13 0h1m22 0h1m-65 1h8m1 0h3m1 0h4m1 0h1m1 0h4m3 0h1m2 0h1m16 0h1m-49 1h5m1 0h2m1 0h9m1 0h1m1 0h1m2 0h3m4 0h1m17 0h1m-50 1h4m1 0h9m1 0h8m1 0h1m1 0h1m3 0h5m7 0h1m3 0h1m1 0h2m3 0h1m8 0h1m-63 1h5m1 0h13m1 0h2m1 0h1m6 0h1m13 0h1m9 0h1m-54 1h26m4 0h1m4 0h1m5 0h1m6 0h1m2 0h1m4 0h1m4 0h1m2 0h2m-67 1h3m1 0h21m4 0h1m5 0h1m3 0h1m5 0h1m3 0h1m7 0h2m1 0h1m-61 1h28m1 0h2m24 0h1m6 0h1m3 0h1m-67 1h28m1 0h4m6 0h2m4 0h1m2 0h1m1 0h1m1 0h3m1 0h1m1 0h2m8 0h1m6 0h1m-76 1h27m1 0h3m5 0h1m1 0h1m5 0h1m2 0h1m3 0h2m1 0h4m1 0h2m7 0h1m7 0h1m-77 1h31m1 0h1m10 0h2m2 0h1m1 0h6m1 0h5m1 0h2m1 0h1m2 0h1m3 0h1m4 0h1m-78 1h28m1 0h3m1 0h1m1 0h1m1 0h1m2 0h1m5 0h1m1 0h1m1 0h1m1 0h6m2 0h2m1 0h2m2 0h1m20 0h1m-89 1h31m1 0h1m1 0h1m9 0h1m1 0h3m1 0h13m1 0h3m9 0h1m-77 1h32m4 0h1m3 0h2m1 0h1m1 0h1m1 0h2m1 0h1m1 0h12m1 0h2m1 0h3m-71 1h31m4 0h3m2 0h1m2 0h2m2 0h22m2 0h1m18 0h1m-91 1h31m1 0h2m7 0h1m2 0h3m1 0h21m1 0h1m-71 1h30m2 0h1m1 0h1m2 0h1m1 0h1m3 0h24m1 0h1m2 0h1m-72 1h29m1 0h3m4 0h2m1 0h3m1 0h1m2 0h21m1 0h1m1 0h1m2 0h1m-75 1h31m1 0h1m1 0h2m5 0h2m3 0h22m1 0h1m-70 1h29m3 0h1m2 0h3m4 0h6m1 0h19m6 0h1m2 0h1m-78 1h29m1 0h2m1 0h1m2 0h1m1 0h2m3 0h1m3 0h24m-71 1h30m2 0h1m1 0h1m1 0h1m4 0h1m1 0h1m2 0h21m2 0h1m2 0h1m-73 1h34m2 0h2m9 0h19m1 0h3m-70 1h30m1 0h1m1 0h1m12 0h23m-69 1h33m10 0h1m1 0h1m1 0h19m1 0h1m1 0h1m1 0h1m-72 1h32m2 0h1m10 0h1m2 0h18m1 0h1m1 0h2m8 0h1m-80 1h31m6 0h1m2 0h1m5 0h1m2 0h17m1 0h2m4 0h1m-74 1h30m6 0h1m1 0h1m8 0h20m1 0h1m2 0h2m1 0h1" stroke="#000" stroke-width="1" fill="none" transform="translate(0 .5)" shape-rendering="crispEdges"/>
<rect x="301.5" y="504.5" width="91.5" height="92.5" fill="none" stroke="#000" stroke-width="1.4"/>
<path d="M347.5 504.5V597" stroke="#000" stroke-width="1"/>
<path d="M301.5 563.5H393" stroke="#000" stroke-width="1"/>
<text x="302.7" y="607.5" font-size="6.7" text-anchor="middle">10<tspan font-size="5.0" dy="-2.8">0</tspan></text>
<text transform="translate(296.0,597.0) rotate(-90)" font-size="6.7" text-anchor="middle">10<tspan font-size="5.0" dy="-2.8">0</tspan></text>
<text x="325.6" y="607.5" font-size="6.7" text-anchor="middle">10<tspan font-size="5.0" dy="-2.8">1</tspan></text>
<text transform="translate(296.0,573.9) rotate(-90)" font-size="6.7" text-anchor="middle">10<tspan font-size="5.0" dy="-2.8">1</tspan></text>
<text x="348.4" y="607.5" font-size="6.7" text-anchor="middle">10<tspan font-size="5.0" dy="-2.8">2</tspan></text>
<text transform="translate(296.0,550.8) rotate(-90)" font-size="6.7" text-anchor="middle">10<tspan font-size="5.0" dy="-2.8">2</tspan></text>
<text x="371.3" y="607.5" font-size="6.7" text-anchor="middle">10<tspan font-size="5.0" dy="-2.8">3</tspan></text>
<text transform="translate(296.0,527.6) rotate(-90)" font-size="6.7" text-anchor="middle">10<tspan font-size="5.0" dy="-2.8">3</tspan></text>
<text x="394.2" y="607.5" font-size="6.7" text-anchor="middle">10<tspan font-size="5.0" dy="-2.8">4</tspan></text>
<text transform="translate(296.0,504.5) rotate(-90)" font-size="6.7" text-anchor="middle">10<tspan font-size="5.0" dy="-2.8">4</tspan></text>
<path d="M301.5 597.0L301.5 599.4M299.1 597.0L301.5 597.0M308.4 597.0L308.4 598.4M300.1 590.0L301.5 590.0M312.4 597.0L312.4 598.4M300.1 586.0L301.5 586.0M315.3 597.0L315.3 598.4M300.1 583.1L301.5 583.1M317.5 597.0L317.5 598.4M300.1 580.8L301.5 580.8M319.3 597.0L319.3 598.4M300.1 579.0L301.5 579.0M320.8 597.0L320.8 598.4M300.1 577.5L301.5 577.5M322.2 597.0L322.2 598.4M300.1 576.1L301.5 576.1M323.3 597.0L323.3 598.4M300.1 574.9L301.5 574.9M324.4 597.0L324.4 599.4M299.1 573.9L301.5 573.9M331.3 597.0L331.3 598.4M300.1 566.9L301.5 566.9M335.3 597.0L335.3 598.4M300.1 562.8L301.5 562.8M338.1 597.0L338.1 598.4M300.1 560.0L301.5 560.0M340.4 597.0L340.4 598.4M300.1 557.7L301.5 557.7M342.2 597.0L342.2 598.4M300.1 555.9L301.5 555.9M343.7 597.0L343.7 598.4M300.1 554.3L301.5 554.3M345.0 597.0L345.0 598.4M300.1 553.0L301.5 553.0M346.2 597.0L346.2 598.4M300.1 551.8L301.5 551.8M347.2 597.0L347.2 599.4M299.1 550.8L301.5 550.8M354.1 597.0L354.1 598.4M300.1 543.8L301.5 543.8M358.2 597.0L358.2 598.4M300.1 539.7L301.5 539.7M361.0 597.0L361.0 598.4M300.1 536.8L301.5 536.8M363.2 597.0L363.2 598.4M300.1 534.6L301.5 534.6M365.1 597.0L365.1 598.4M300.1 532.8L301.5 532.8M366.6 597.0L366.6 598.4M300.1 531.2L301.5 531.2M367.9 597.0L367.9 598.4M300.1 529.9L301.5 529.9M369.1 597.0L369.1 598.4M300.1 528.7L301.5 528.7M370.1 597.0L370.1 599.4M299.1 527.6L301.5 527.6M377.0 597.0L377.0 598.4M300.1 520.7L301.5 520.7M381.0 597.0L381.0 598.4M300.1 516.6L301.5 516.6M383.9 597.0L383.9 598.4M300.1 513.7L301.5 513.7M386.1 597.0L386.1 598.4M300.1 511.5L301.5 511.5M387.9 597.0L387.9 598.4M300.1 509.6L301.5 509.6M389.5 597.0L389.5 598.4M300.1 508.1L301.5 508.1M390.8 597.0L390.8 598.4M300.1 506.7L301.5 506.7M392.0 597.0L392.0 598.4M300.1 505.6L301.5 505.6M393.0 597.0L393.0 599.4M299.1 504.5L301.5 504.5" stroke="#000" stroke-width="0.7" fill="none"/>
<text transform="translate(309.16,499.00) scale(1.138,1)" font-size="13.50" >no stimulus</text>
<path d="M437 510h1m-4 1h1m7 6h1m-26 1h1m30 5h1m-27 2h1m2 0h2m13 0h2m5 0h1m22 0h1m1 0h1m4 0h1m-57 1h2m1 0h1m2 0h3m1 0h3m3 0h1m5 0h1m27 0h2m10 0h1m-65 1h3m1 0h1m1 0h1m1 0h1m1 0h2m1 0h3m3 0h3m25 0h1m9 0h1m3 0h1m-63 1h1m1 0h1m1 0h4m2 0h2m4 0h1m1 0h1m1 0h2m3 0h1m2 0h1m29 0h1m-60 1h2m1 0h1m1 0h2m2 0h3m1 0h1m1 0h2m1 0h2m2 0h1m33 0h1m2 0h1m4 0h1m-65 1h2m2 0h1m3 0h1m1 0h6m1 0h2m2 0h1m27 0h3m1 0h2m1 0h3m2 0h1m2 0h1m-64 1h1m1 0h1m1 0h2m1 0h5m1 0h5m1 0h5m1 0h2m1 0h1m13 0h1m5 0h2m6 0h1m1 0h1m1 0h3m-64 1h1m1 0h2m1 0h5m1 0h1m2 0h6m1 0h1m2 0h3m1 0h1m11 0h1m2 0h1m1 0h1m2 0h2m4 0h1m1 0h2m1 0h3m21 0h1m-83 1h2m1 0h2m1 0h6m2 0h3m1 0h4m3 0h1m2 0h1m9 0h1m8 0h1m4 0h1m3 0h3m5 0h1m-66 1h2m1 0h7m1 0h11m2 0h3m6 0h1m8 0h2m1 0h4m1 0h1m3 0h1m3 0h5m1 0h1m1 0h1m-67 1h24m1 0h1m3 0h1m4 0h1m10 0h1m1 0h2m1 0h3m2 0h5m2 0h1m3 0h1m-67 1h3m1 0h1m1 0h8m1 0h13m15 0h1m2 0h2m1 0h5m1 0h1m1 0h3m2 0h2m2 0h1m3 0h1m-69 1h20m1 0h4m18 0h2m2 0h3m3 0h1m1 0h7m1 0h2m-67 1h3m1 0h23m4 0h1m11 0h1m2 0h1m1 0h1m1 0h1m2 0h1m2 0h1m2 0h1m1 0h1m3 0h1m-65 1h24m1 0h1m14 0h3m1 0h1m1 0h2m1 0h1m1 0h1m3 0h4m2 0h1m1 0h3m-67 1h3m1 0h19m1 0h3m19 0h2m2 0h2m1 0h1m2 0h1m1 0h3m3 0h1m1 0h2m-68 1h8m1 0h1m1 0h18m3 0h1m7 0h1m2 0h1m1 0h3m1 0h3m4 0h3m1 0h1m3 0h2m-65 1h13m1 0h9m1 0h3m12 0h1m3 0h2m1 0h3m1 0h7m1 0h1m2 0h3m1 0h2m2 0h1m-71 1h2m1 0h23m1 0h2m3 0h1m11 0h1m1 0h3m1 0h1m1 0h8m1 0h1m1 0h4m-67 1h5m1 0h24m10 0h1m2 0h5m1 0h4m3 0h4m1 0h3m1 0h1m1 0h1m-68 1h1m1 0h24m1 0h1m7 0h1m1 0h1m6 0h1m1 0h1m1 0h3m2 0h6m1 0h6m1 0h1m-68 1h27m2 0h2m2 0h1m9 0h2m2 0h1m1 0h3m4 0h1m4 0h3m-63 1h4m1 0h22m10 0h1m7 0h1m1 0h2m3 0h3m1 0h2m1 0h1m1 0h1m1 0h5m-69 1h1m1 0h26m3 0h1m8 0h2m1 0h1m2 0h2m2 0h2m2 0h2m1 0h4m2 0h2m2 0h1m-68 1h28m1 0h2m15 0h2m1 0h4m1 0h5m2 0h1m1 0h5m-68 1h8m1 0h18m1 0h1m2 0h1m8 0h1m1 0h1m1 0h4m2 0h2m1 0h7m2 0h2m2 0h6m-72 1h5m1 0h25m5 0h2m6 0h2m1 0h1m3 0h5m1 0h2m1 0h2m1 0h3m1 0h1m-68 1h27m1 0h1m1 0h3m9 0h1m3 0h1m1 0h1m1 0h1m1 0h6m1 0h1m2 0h1m3 0h1m-67 1h29m1 0h1m2 0h1m3 0h1m8 0h2m1 0h1m1 0h4m2 0h2m1 0h3m1 0h1m1 0h1m2 0h1m-70 1h27m1 0h2m1 0h1m2 0h1m7 0h2m1 0h1m2 0h1m1 0h1m3 0h2m1 0h1m1 0h1m1 0h2m1 0h2m1 0h1m-68 1h6m1 0h20m2 0h1m3 0h1m5 0h1m8 0h2m1 0h1m1 0h4m2 0h1m1 0h2m-63 1h29m1 0h1m4 0h2m5 0h1m1 0h1m2 0h1m1 0h2m1 0h5m1 0h2m4 0h1m1 0h1m-67 1h30m1 0h1m7 0h1m7 0h6m1 0h2m1 0h1m1 0h2m1 0h3m-65 1h1m1 0h28m1 0h1m2 0h1m3 0h1m1 0h1m3 0h1m1 0h2m1 0h6m1 0h2m1 0h1m1 0h3m2 0h1m-67 1h8m1 0h21m3 0h1m7 0h1m7 0h2m1 0h1m1 0h2m1 0h5m3 0h1m4 0h1m-71 1h3m1 0h2m1 0h23m9 0h2m3 0h3m4 0h4m1 0h7m2 0h1m2 0h1m1 0h1m-71 1h29m3 0h1m1 0h3m5 0h3m1 0h1m1 0h1m1 0h1m2 0h1m1 0h1m1 0h1m1 0h5m2 0h1m-67 1h28m3 0h5m1 0h1m4 0h2m1 0h1m1 0h3m1 0h2m2 0h3m1 0h1m1 0h1m2 0h2m20 0h1m-87 1h27m1 0h3m2 0h2m1 0h1m2 0h1m2 0h1m1 0h7m1 0h3m1 0h6m1 0h2m-65 1h2m1 0h1m1 0h1m1 0h24m2 0h1m1 0h1m2 0h1m3 0h2m1 0h2m1 0h5m1 0h4m1 0h4m20 0h1m-84 1h4m1 0h3m1 0h20m1 0h1m4 0h1m5 0h3m1 0h6m1 0h10m-62 1h1m1 0h26m1 0h6m5 0h1m2 0h12m2 0h1m1 0h1m1 0h1m4 0h2m-68 1h5m1 0h2m1 0h20m3 0h1m1 0h1m1 0h4m1 0h2m1 0h1m1 0h13m3 0h1m12 0h1m4 0h1m-81 1h30m6 0h1m1 0h5m1 0h16m1 0h1m6 0h1m8 0h1m-78 1h29m2 0h2m4 0h1m1 0h1m2 0h19m1 0h1m1 0h1m-64 1h27m3 0h2m1 0h1m1 0h2m3 0h2m1 0h16m1 0h3m-64 1h8m1 0h20m1 0h1m5 0h1m1 0h1m2 0h2m1 0h20m-64 1h30m1 0h2m2 0h9m1 0h2m1 0h10m2 0h2m1 0h1m3 0h1m-68 1h31m1 0h1m2 0h2m3 0h6m1 0h14m1 0h1m2 0h2m-66 1h9m1 0h17m2 0h3m6 0h6m1 0h16m1 0h2m1 0h1m4 0h1m8 0h1m-81 1h26m1 0h1m1 0h2m1 0h1m2 0h3m1 0h25m-64 1h2m2 0h1m1 0h4m1 0h17m1 0h1m1 0h3m1 0h10m1 0h14m1 0h2m1 0h1m13 0h1m-78 1h9m1 0h16m1 0h3m2 0h27m2 0h1m-62 1h5m1 0h19m1 0h2m2 0h1m2 0h2m1 0h11m1 0h12m1 0h2m1 0h1m-66 1h26m2 0h2m3 0h1m1 0h23m1 0h5m2 0h1m-67 1h1m1 0h3m1 0h20m1 0h1m1 0h1m6 0h1m1 0h15m1 0h10m4 0h1m10 0h1m6 0h1m-87 1h7m1 0h16m1 0h2m1 0h2m3 0h2m1 0h26m1 0h1m7 0h1m5 0h2m-79 1h26m1 0h1m1 0h1m3 0h2m1 0h20m1 0h2m1 0h4m6 0h1m2 0h1m9 0h1m-84 1h3m1 0h2m1 0h20m2 0h1m1 0h1m2 0h1m2 0h30m3 0h1m-71 1h1m1 0h23m1 0h1m1 0h1m1 0h2m1 0h1m2 0h22m1 0h5m1 0h1m-66 1h6m2 0h5m1 0h14m2 0h2m1 0h1m1 0h4m1 0h2m1 0h16m1 0h2m4 0h1m-67 1h1m1 0h5m1 0h3m1 0h2m1 0h11m1 0h1m2 0h1m2 0h2m2 0h24m1 0h2m12 0h1m-74 1h1m1 0h20m1 0h3m1 0h5m1 0h3m1 0h11m1 0h13m-65 1h1m1 0h9m1 0h6m1 0h4m1 0h1m3 0h1m5 0h1m2 0h7m1 0h19m18 0h1m-82 1h1m1 0h1m1 0h6m1 0h6m1 0h5m1 0h4m1 0h2m7 0h1m1 0h1m1 0h6m1 0h3m1 0h8m1 0h1m2 0h2m-68 1h7m1 0h3m1 0h8m1 0h3m2 0h1m1 0h1m2 0h1m3 0h6m1 0h17m1 0h2m1 0h3m-66 1h7m1 0h2m1 0h11m1 0h3m2 0h2m5 0h1m1 0h1m2 0h23m1 0h1m1 0h2m13 0h1m-81 1h2m1 0h4m1 0h3m1 0h3m1 0h5m1 0h3m1 0h1m7 0h2m4 0h2m1 0h9m1 0h1m1 0h3m2 0h1m1 0h1m-61 1h8m1 0h2m1 0h2m1 0h5m1 0h4m8 0h1m1 0h7m2 0h9m1 0h4m1 0h1m-60 1h3m1 0h3m1 0h3m1 0h7m1 0h1m5 0h1m8 0h1m3 0h1m2 0h6m1 0h5m3 0h2m14 0h1m-77 1h1m2 0h1m1 0h4m1 0h4m1 0h1m1 0h2m2 0h3m2 0h1m5 0h1m1 0h1m4 0h1m2 0h1m3 0h2m1 0h1m1 0h1m1 0h3m2 0h3m20 0h1m-82 1h8m3 0h2m1 0h1m1 0h1m1 0h1m2 0h2m1 0h1m4 0h1m2 0h1m7 0h1m2 0h1m2 0h1m1 0h3m1 0h1m1 0h2m2 0h2m1 0h1m3 0h1m4 0h1" stroke="#000" stroke-width="1" fill="none" transform="translate(0 .5)" shape-rendering="crispEdges"/>
<rect x="416.5" y="504.5" width="91.0" height="92.5" fill="none" stroke="#000" stroke-width="1.4"/>
<path d="M461.5 504.5V597" stroke="#000" stroke-width="1"/>
<path d="M416.5 563.5H507.5" stroke="#000" stroke-width="1"/>
<text x="417.7" y="607.5" font-size="6.7" text-anchor="middle">10<tspan font-size="5.0" dy="-2.8">0</tspan></text>
<text transform="translate(411.0,597.0) rotate(-90)" font-size="6.7" text-anchor="middle">10<tspan font-size="5.0" dy="-2.8">0</tspan></text>
<text x="440.4" y="607.5" font-size="6.7" text-anchor="middle">10<tspan font-size="5.0" dy="-2.8">1</tspan></text>
<text transform="translate(411.0,573.9) rotate(-90)" font-size="6.7" text-anchor="middle">10<tspan font-size="5.0" dy="-2.8">1</tspan></text>
<text x="463.2" y="607.5" font-size="6.7" text-anchor="middle">10<tspan font-size="5.0" dy="-2.8">2</tspan></text>
<text transform="translate(411.0,550.8) rotate(-90)" font-size="6.7" text-anchor="middle">10<tspan font-size="5.0" dy="-2.8">2</tspan></text>
<text x="485.9" y="607.5" font-size="6.7" text-anchor="middle">10<tspan font-size="5.0" dy="-2.8">3</tspan></text>
<text transform="translate(411.0,527.6) rotate(-90)" font-size="6.7" text-anchor="middle">10<tspan font-size="5.0" dy="-2.8">3</tspan></text>
<text x="508.7" y="607.5" font-size="6.7" text-anchor="middle">10<tspan font-size="5.0" dy="-2.8">4</tspan></text>
<text transform="translate(411.0,504.5) rotate(-90)" font-size="6.7" text-anchor="middle">10<tspan font-size="5.0" dy="-2.8">4</tspan></text>
<path d="M416.5 597.0L416.5 599.4M414.1 597.0L416.5 597.0M423.3 597.0L423.3 598.4M415.1 590.0L416.5 590.0M427.4 597.0L427.4 598.4M415.1 586.0L416.5 586.0M430.2 597.0L430.2 598.4M415.1 583.1L416.5 583.1M432.4 597.0L432.4 598.4M415.1 580.8L416.5 580.8M434.2 597.0L434.2 598.4M415.1 579.0L416.5 579.0M435.7 597.0L435.7 598.4M415.1 577.5L416.5 577.5M437.0 597.0L437.0 598.4M415.1 576.1L416.5 576.1M438.2 597.0L438.2 598.4M415.1 574.9L416.5 574.9M439.2 597.0L439.2 599.4M414.1 573.9L416.5 573.9M446.1 597.0L446.1 598.4M415.1 566.9L416.5 566.9M450.1 597.0L450.1 598.4M415.1 562.8L416.5 562.8M452.9 597.0L452.9 598.4M415.1 560.0L416.5 560.0M455.2 597.0L455.2 598.4M415.1 557.7L416.5 557.7M457.0 597.0L457.0 598.4M415.1 555.9L416.5 555.9M458.5 597.0L458.5 598.4M415.1 554.3L416.5 554.3M459.8 597.0L459.8 598.4M415.1 553.0L416.5 553.0M461.0 597.0L461.0 598.4M415.1 551.8L416.5 551.8M462.0 597.0L462.0 599.4M414.1 550.8L416.5 550.8M468.8 597.0L468.8 598.4M415.1 543.8L416.5 543.8M472.9 597.0L472.9 598.4M415.1 539.7L416.5 539.7M475.7 597.0L475.7 598.4M415.1 536.8L416.5 536.8M477.9 597.0L477.9 598.4M415.1 534.6L416.5 534.6M479.7 597.0L479.7 598.4M415.1 532.8L416.5 532.8M481.2 597.0L481.2 598.4M415.1 531.2L416.5 531.2M482.5 597.0L482.5 598.4M415.1 529.9L416.5 529.9M483.7 597.0L483.7 598.4M415.1 528.7L416.5 528.7M484.8 597.0L484.8 599.4M414.1 527.6L416.5 527.6M491.6 597.0L491.6 598.4M415.1 520.7L416.5 520.7M495.6 597.0L495.6 598.4M415.1 516.6L416.5 516.6M498.4 597.0L498.4 598.4M415.1 513.7L416.5 513.7M500.7 597.0L500.7 598.4M415.1 511.5L416.5 511.5M502.5 597.0L502.5 598.4M415.1 509.6L416.5 509.6M504.0 597.0L504.0 598.4M415.1 508.1L416.5 508.1M505.3 597.0L505.3 598.4M415.1 506.7L416.5 506.7M506.5 597.0L506.5 598.4M415.1 505.6L416.5 505.6M507.5 597.0L507.5 599.4M414.1 504.5L416.5 504.5" stroke="#000" stroke-width="0.7" fill="none"/>
<text transform="translate(446.21,498.90) scale(1.098,1)" font-size="14.05" >SEB</text>
<path d="M219.5 617.5H488.5" stroke="#000" stroke-width="2.4"/>
<path d="M487.5 612.2L499 617.5L487.5 622.8Z" fill="#000"/>
<path d="M52 701h1m16 0h1m8 0h1m7 0h2m-22 1h1m5 0h1m4 0h1m5 0h1m2 0h1m-26 1h1m5 0h1m1 0h1m4 0h3m-1 1h1m1 0h1m-7 1h1m11 0h1m18 0h1m3 0h1m-37 1h1m12 0h1m-13 1h2m3 0h2m4 0h1m-42 1h1m30 0h1m2 0h1m1 0h1m3 0h1m6 0h1m29 0h1m3 0h1m-64 1h2m8 0h1m1 0h2m3 0h1m5 0h1m36 0h1m-90 1h1m13 0h1m17 0h1m6 0h1m2 0h1m2 0h2m1 0h1m28 0h1m2 0h1m-78 1h1m13 0h1m17 0h1m1 0h1m2 0h1m1 0h2m1 0h3m6 0h1m-40 1h1m6 0h1m13 0h1m2 0h1m1 0h1m1 0h2m3 0h2m1 0h2m12 0h1m-25 1h2m1 0h2m1 0h1m3 0h1m-43 1h2m8 0h1m8 0h1m1 0h1m1 0h1m4 0h1m1 0h4m1 0h1m1 0h1m2 0h1m1 0h1m1 0h1m-46 1h1m6 0h1m8 0h1m12 0h3m1 0h5m1 0h1m2 0h1m29 0h1m-67 1h1m4 0h1m12 0h1m6 0h1m1 0h6m4 0h1m24 0h1m-78 1h1m28 0h1m4 0h1m6 0h1m1 0h6m2 0h2m2 0h1m29 0h1m2 0h1m-81 1h1m12 0h1m11 0h1m3 0h2m1 0h4m1 0h4m3 0h1m1 0h1m3 0h1m29 0h1m-87 1h1m7 0h1m5 0h1m1 0h1m5 0h1m3 0h1m3 0h1m5 0h4m2 0h6m1 0h4m-53 1h1m23 0h1m4 0h1m2 0h1m3 0h3m1 0h1m2 0h6m1 0h1m-37 1h1m2 0h1m3 0h1m7 0h3m3 0h3m1 0h6m1 0h3m2 0h3m-42 1h1m19 0h2m1 0h2m1 0h4m1 0h6m-49 1h1m25 0h1m3 0h3m2 0h1m2 0h1m1 0h6m1 0h3m1 0h1m3 0h1m-55 1h1m5 0h1m11 0h1m14 0h1m3 0h3m1 0h7m1 0h4m-47 1h1m6 0h1m6 0h1m5 0h1m2 0h1m4 0h1m1 0h1m2 0h8m2 0h1m-53 1h2m3 0h1m3 0h1m3 0h1m8 0h1m9 0h1m3 0h1m1 0h1m1 0h3m1 0h5m1 0h1m1 0h2m37 0h1m-93 1h1m12 0h3m1 0h1m6 0h1m1 0h1m11 0h4m2 0h7m1 0h1m-41 1h1m6 0h1m9 0h1m1 0h1m5 0h1m3 0h8m1 0h2m3 0h1m1 0h1m3 0h1m-62 1h1m2 0h1m6 0h1m27 0h1m2 0h11m1 0h2m-44 1h1m7 0h1m3 0h1m2 0h1m5 0h3m3 0h1m2 0h1m1 0h10m6 0h1m1 0h1m5 0h1m2 0h1m-66 1h1m2 0h1m4 0h2m1 0h1m1 0h1m9 0h1m7 0h2m1 0h13m2 0h2m1 0h2m1 0h1m-54 1h2m19 0h1m8 0h1m3 0h15m-51 1h1m2 0h1m9 0h2m4 0h2m9 0h2m3 0h1m2 0h6m1 0h1m1 0h1m2 0h1m-55 1h1m4 0h1m13 0h1m2 0h1m1 0h2m3 0h1m1 0h1m5 0h1m4 0h10m3 0h1m8 0h1m21 0h1m-88 1h1m1 0h1m2 0h2m3 0h1m10 0h1m1 0h1m2 0h1m8 0h1m2 0h1m2 0h9m6 0h1m-53 1h1m7 0h1m1 0h1m1 0h1m16 0h1m7 0h9m1 0h2m1 0h1m5 0h1m33 0h1m-77 1h1m2 0h1m10 0h1m1 0h1m3 0h1m2 0h2m1 0h5m2 0h2m1 0h1m1 0h3m-59 1h1m3 0h1m1 0h1m4 0h1m2 0h1m1 0h1m1 0h1m3 0h2m2 0h1m3 0h2m5 0h1m1 0h1m1 0h8m1 0h1m1 0h2m2 0h2m-54 1h1m3 0h1m4 0h1m4 0h1m7 0h1m2 0h1m1 0h1m1 0h1m3 0h2m4 0h8m2 0h5m-50 1h1m6 0h2m3 0h1m13 0h2m4 0h12m1 0h1m-53 1h2m3 0h1m1 0h1m2 0h1m6 0h2m1 0h1m2 0h2m3 0h1m6 0h2m2 0h2m1 0h4m1 0h3m1 0h1m2 0h1m1 0h1m10 0h1m-68 1h1m2 0h1m1 0h1m6 0h1m2 0h1m1 0h1m1 0h1m3 0h1m3 0h6m5 0h14m1 0h1m5 0h2m21 0h1m10 0h1m-93 1h1m1 0h1m4 0h1m3 0h1m9 0h1m7 0h2m3 0h2m1 0h4m1 0h9m1 0h1m1 0h1m34 0h1m-91 1h1m1 0h1m1 0h1m1 0h5m2 0h1m3 0h1m2 0h1m5 0h3m2 0h1m1 0h1m5 0h1m1 0h14m3 0h1m11 0h1m-72 1h1m2 0h1m7 0h1m1 0h1m1 0h1m2 0h1m11 0h1m9 0h10m1 0h2m10 0h1m3 0h1m-62 1h3m2 0h1m1 0h1m1 0h1m1 0h2m2 0h1m4 0h1m4 0h1m3 0h2m3 0h2m1 0h1m1 0h4m1 0h2m1 0h1m4 0h1m1 0h1m-61 1h1m1 0h5m1 0h1m1 0h1m1 0h3m2 0h1m4 0h1m1 0h1m1 0h1m1 0h1m2 0h2m2 0h1m1 0h2m2 0h1m1 0h10m2 0h1m-55 1h2m2 0h1m3 0h4m3 0h1m2 0h1m1 0h1m1 0h4m5 0h3m3 0h3m1 0h3m1 0h1m1 0h5m1 0h1m4 0h1m-60 1h1m1 0h4m1 0h2m1 0h1m2 0h1m3 0h2m4 0h1m4 0h5m4 0h2m1 0h1m1 0h1m1 0h3m1 0h7m8 0h1m26 0h1m-87 1h4m1 0h1m4 0h4m1 0h2m3 0h7m2 0h2m7 0h4m1 0h8m2 0h1m-58 1h1m1 0h4m4 0h1m2 0h2m2 0h4m2 0h2m1 0h4m1 0h1m1 0h1m1 0h1m2 0h1m3 0h1m1 0h5m2 0h2m1 0h1m1 0h1m6 0h1m-62 1h1m2 0h2m18 0h1m2 0h1m4 0h4m2 0h1m1 0h12m3 0h3m-56 1h2m1 0h1m2 0h2m10 0h2m1 0h1m1 0h1m2 0h1m1 0h2m4 0h5m1 0h10m1 0h1m2 0h3m-59 1h1m1 0h1m2 0h1m2 0h2m2 0h1m4 0h1m7 0h1m3 0h2m2 0h1m1 0h2m6 0h4m1 0h1m1 0h3m5 0h1m8 0h2m-65 1h1m2 0h1m4 0h1m1 0h1m2 0h1m6 0h1m1 0h1m4 0h3m5 0h2m1 0h12m3 0h1m4 0h1m9 0h1m-72 1h3m2 0h1m4 0h3m1 0h2m2 0h1m2 0h1m1 0h2m1 0h1m3 0h1m1 0h1m2 0h1m1 0h2m3 0h6m6 0h3m-59 1h2m4 0h2m1 0h1m3 0h1m8 0h1m1 0h2m1 0h1m2 0h1m2 0h1m6 0h1m1 0h4m1 0h2m1 0h3m2 0h1m3 0h2m-61 1h1m1 0h1m1 0h1m4 0h2m2 0h3m7 0h1m3 0h1m4 0h1m2 0h1m3 0h1m1 0h2m1 0h3m1 0h4m1 0h2m1 0h1m4 0h1m3 0h1m16 0h1m3 0h1m-87 1h2m4 0h1m3 0h3m1 0h2m1 0h1m1 0h1m5 0h1m1 0h2m1 0h3m4 0h4m2 0h5m1 0h1m3 0h1m2 0h1m3 0h1m-59 1h4m3 0h1m1 0h3m3 0h1m2 0h1m2 0h2m4 0h3m3 0h2m1 0h2m3 0h8m1 0h3m1 0h2m-53 1h2m1 0h3m1 0h1m1 0h1m9 0h1m1 0h1m3 0h2m1 0h2m3 0h4m1 0h6m1 0h3m1 0h3m2 0h1m2 0h1m4 0h1m-67 1h1m3 0h2m2 0h2m1 0h1m2 0h1m2 0h1m2 0h1m1 0h2m1 0h2m1 0h2m1 0h2m2 0h1m1 0h1m1 0h2m1 0h3m1 0h7m1 0h2m2 0h1m-60 1h1m2 0h1m2 0h4m1 0h2m3 0h2m3 0h1m1 0h1m1 0h3m1 0h3m2 0h2m1 0h1m3 0h1m1 0h4m1 0h3m1 0h1m3 0h1m10 0h1m-67 1h1m1 0h1m1 0h3m1 0h5m2 0h1m1 0h4m2 0h1m1 0h1m1 0h2m4 0h1m1 0h2m2 0h1m1 0h6m1 0h1m4 0h1m1 0h1m17 0h1m5 0h1m9 0h1m-90 1h2m2 0h1m3 0h1m1 0h1m3 0h2m3 0h1m1 0h1m1 0h2m1 0h2m3 0h1m3 0h1m3 0h4m3 0h3m1 0h5m1 0h1m1 0h1m-60 1h1m1 0h1m1 0h1m2 0h2m1 0h3m1 0h2m4 0h3m2 0h1m2 0h7m5 0h2m1 0h1m1 0h1m1 0h2m1 0h8m6 0h1m10 0h1m-74 1h1m1 0h4m1 0h8m2 0h1m2 0h1m1 0h1m1 0h1m2 0h1m1 0h1m2 0h1m4 0h1m2 0h9m2 0h1m1 0h2m3 0h1m1 0h2m2 0h1m4 0h1m-72 1h3m2 0h1m2 0h1m1 0h1m1 0h2m1 0h1m1 0h2m3 0h2m1 0h2m1 0h1m4 0h2m2 0h2m1 0h4m1 0h2m1 0h2m1 0h2m1 0h1m1 0h3m3 0h1m6 0h1m-69 1h2m4 0h1m1 0h1m1 0h1m1 0h1m3 0h4m1 0h2m1 0h1m2 0h5m1 0h1m3 0h2m2 0h15m2 0h1m1 0h1m1 0h2m2 0h1m1 0h1m-70 1h1m2 0h6m1 0h2m2 0h1m1 0h1m1 0h8m3 0h2m1 0h2m1 0h1m3 0h2m1 0h3m1 0h3m1 0h2m2 0h1m2 0h1m2 0h2m4 0h1m10 0h1m-78 1h5m1 0h7m1 0h2m3 0h1m1 0h1m2 0h1m2 0h1m1 0h1m1 0h6m2 0h1m1 0h1m1 0h2m1 0h2m2 0h1m1 0h1m1 0h1m5 0h1m2 0h1m-63 1h7m1 0h3m1 0h1m4 0h1m1 0h1m2 0h3m1 0h5m2 0h1m2 0h1m1 0h10m1 0h5m3 0h6m-64 1h4m1 0h4m5 0h2m1 0h3m2 0h1m4 0h2m1 0h2m1 0h2m1 0h3m2 0h1m2 0h7m1 0h1m1 0h1m2 0h2m3 0h1m10 0h1m-74 1h2m1 0h1m1 0h2m4 0h5m4 0h6m1 0h3m1 0h5m2 0h1m2 0h7m1 0h1m1 0h1m1 0h2m2 0h2m2 0h2m1 0h1m6 0h1m14 0h1m-85 1h3m1 0h3m1 0h1m1 0h1m1 0h7m2 0h2m1 0h1m1 0h1m1 0h2m2 0h1m5 0h4m1 0h2m1 0h3m1 0h2m1 0h2m1 0h1m2 0h1m2 0h1m2 0h3m-68 1h3m1 0h1m1 0h1m1 0h3m1 0h2m1 0h2m1 0h2m1 0h5m1 0h3m1 0h1m1 0h6m1 0h3m1 0h2m2 0h1m2 0h3m2 0h2m2 0h1m8 0h1m20 0h1m-89 1h2m1 0h1m5 0h1m1 0h10m1 0h2m1 0h4m1 0h1m2 0h4m2 0h1m2 0h9m1 0h1m13 0h1m-70 1h2m2 0h1m1 0h2m1 0h8m1 0h1m2 0h4m1 0h2m1 0h3m1 0h3m1 0h1m1 0h1m2 0h1m2 0h6m1 0h6m2 0h1m1 0h1m2 0h1m2 0h1m-70 1h4m1 0h2m3 0h3m1 0h1m1 0h1m1 0h1m1 0h7m1 0h2m1 0h1m2 0h1m1 0h3m4 0h2m1 0h4m1 0h2m2 0h2m2 0h2m2 0h1m20 0h1m3 0h2m-88 1h6m3 0h1m1 0h2m2 0h1m1 0h1m1 0h3m1 0h1m1 0h7m2 0h1m3 0h2m1 0h2m1 0h6m1 0h4m3 0h6m22 0h3m-88 1h1m1 0h1m2 0h1m1 0h4m1 0h1m3 0h1m1 0h2m2 0h3m1 0h2m1 0h3m5 0h2m4 0h2m1 0h4m5 0h1m1 0h1m1 0h2m4 0h1m-64 1h4m2 0h1m2 0h1m1 0h1m3 0h3m1 0h1m1 0h1m3 0h4m2 0h2m2 0h2m1 0h1m1 0h1m2 0h5m2 0h3m2 0h1m2 0h1m-61 1h1m3 0h2m1 0h1m4 0h3m1 0h3m3 0h3m1 0h1m2 0h4m1 0h1m2 0h1m2 0h1m1 0h2m3 0h4m3 0h2m1 0h1m1 0h1m2 0h1m-64 1h1m2 0h2m2 0h2m1 0h2m1 0h1m1 0h1m2 0h2m1 0h1m1 0h2m4 0h4m1 0h1m2 0h4m1 0h1m2 0h1m2 0h1m2 0h1m2 0h1m2 0h4m1 0h1m7 0h1m-67 1h2m1 0h5m3 0h3m1 0h1m3 0h2m5 0h4m1 0h1m1 0h1m1 0h2m3 0h5m2 0h1m2 0h2m10 0h1m-66 1h2m4 0h1m6 0h2m1 0h2m2 0h1m2 0h3m3 0h2m1 0h1m2 0h5m1 0h2m6 0h2m1 0h7m1 0h1m20 0h1m-81 1h2m4 0h1m4 0h2m1 0h1m7 0h1m1 0h6m4 0h3m1 0h2m1 0h1m2 0h6m1 0h1m1 0h1m8 0h1m-60 1h1m6 0h1m3 0h1m1 0h2m1 0h4m4 0h1m2 0h1m1 0h1m1 0h3m1 0h1m2 0h3m5 0h1m6 0h1m-58 1h1m6 0h3m1 0h1m1 0h1m3 0h2m1 0h4m1 0h6m5 0h2m1 0h1m1 0h1m1 0h4m1 0h1m1 0h1m3 0h1m2 0h1m1 0h1m20 0h1m-75 1h1m2 0h1m1 0h1m4 0h2m2 0h5m3 0h1m3 0h1m1 0h1m1 0h1m3 0h2m3 0h1m1 0h1m1 0h1m1 0h1m3 0h1m2 0h1m1 0h1m6 0h1m9 0h1m-80 1h1m4 0h1m5 0h1m5 0h1m1 0h1m1 0h1m4 0h1m3 0h4m1 0h2m1 0h1m1 0h3m1 0h2m3 0h1m9 0h1m4 0h1m11 0h1m12 0h1m-91 1h3m5 0h1m1 0h1m1 0h1m7 0h1m1 0h1m2 0h2m1 0h3m2 0h2m1 0h1m1 0h2m7 0h1m3 0h2m4 0h1m1 0h1m16 0h1m-73 1h1m1 0h1m1 0h1m2 0h2m3 0h1m1 0h1m1 0h6m1 0h1m1 0h1m1 0h2m1 0h2m2 0h1m1 0h1m2 0h1m3 0h1m3 0h1m1 0h1m1 0h1m2 0h1m1 0h1m1 0h1m-60 1h1m2 0h1m2 0h1m2 0h2m2 0h1m3 0h1m2 0h1m2 0h1m1 0h1m2 0h2m1 0h1m2 0h1m6 0h1m1 0h1m1 0h1m4 0h2m10 0h1m21 0h1m-87 1h2m11 0h1m2 0h1m4 0h1m6 0h2m2 0h5m1 0h2m2 0h2m1 0h1m1 0h1m1 0h1m2 0h2m2 0h1m2 0h1m2 0h1m2 0h1m-64 1h1m16 0h1m2 0h1m4 0h1m2 0h1m1 0h1m3 0h2m6 0h2m1 0h1m3 0h2m4 0h1m3 0h1m-54 1h1m2 0h1m11 0h1m11 0h3m3 0h2m3 0h1m2 0h1m1 0h1m1 0h1m2 0h2m31 0h1m-84 1h1m2 0h1m3 0h1m1 0h2m10 0h1m5 0h1m2 0h1m1 0h1m6 0h1m1 0h1m4 0h2m1 0h1m3 0h1m1 0h1m1 0h1m3 0h1m6 0h1m-73 1h1m1 0h1m6 0h1m1 0h1m4 0h1m2 0h2m3 0h1m1 0h1m12 0h1m3 0h2m3 0h1m2 0h1m2 0h1m2 0h1m2 0h1m4 0h1" stroke="#888" stroke-width="1" fill="none" transform="translate(0 .5)" shape-rendering="crispEdges"/>
<path d="M73 704h1m-1 3h1m-2 1h1m5 0h1m-5 2h1m5 1h1m-16 1h1m10 0h1m5 1h1m-11 1h1m1 0h1m3 0h1m-12 2h2m10 0h1m-1 1h1m-13 1h1m3 0h1m3 0h1m-6 1h1m2 0h1m6 0h1m-8 1h1m2 0h1m2 0h1m1 0h1m-10 1h1m-1 1h1m-4 1h1m1 0h1m6 1h1m-5 1h2m4 0h1m-13 1h1m2 0h1m3 0h1m-8 1h1m2 0h1m1 0h1m1 0h1m4 0h1m3 0h1m-17 1h1m4 0h2m2 0h2m3 0h1m-15 1h1m2 0h1m2 0h2m1 0h1m-9 1h1m4 0h1m1 0h1m-7 1h1m1 0h2m1 0h2m4 0h1m1 0h1m-11 1h1m-4 1h2m1 0h1m3 0h1m3 0h1m-14 1h1m2 0h1m1 0h4m1 0h1m1 0h1m-13 1h1m3 0h2m2 0h2m1 0h1m-7 1h1m3 0h3m-11 1h1m7 0h2m-7 1h1m1 0h1m-1 1h1m1 0h1m-5 1h2m4 0h2m-17 1h1m3 0h2m2 0h1m2 0h2m1 0h1m1 0h1m-11 1h1m1 0h1m1 0h2m1 0h1m1 0h2m-12 1h1m2 0h3m1 0h2m2 0h1m-8 1h3m2 0h1m1 0h1m-11 1h2m5 0h1m1 0h2m1 0h1m-22 1h1m9 0h1m2 0h1m2 0h3m1 0h1m-45 1h1m34 0h1m1 0h2m-2 1h1m4 0h1m9 0h1m5 0h1m-22 1h1m1 0h1m2 0h1m-6 1h1m1 0h1m2 0h1m10 0h1m-38 1h1m1 0h1m12 0h1m3 0h1m1 0h2m2 0h1m1 0h1m3 0h1m1 0h1m-19 1h1m3 0h1m2 0h1m1 0h2m4 0h1m1 0h2m-17 1h1m1 0h1m1 0h1m2 0h1m4 0h3m-49 1h1m35 0h2m6 0h1m1 0h1m18 0h1m-33 1h1m3 0h1m2 0h4m12 0h1m-45 1h2m9 0h1m2 0h1m2 0h1m5 0h1m4 0h3m1 0h3m3 0h3m-52 1h2m6 0h1m1 0h2m9 0h1m3 0h1m13 0h1m4 0h1m-48 1h1m4 0h1m2 0h1m2 0h1m5 0h1m20 0h3m3 0h1m1 0h1m1 0h1m2 0h1m-45 1h2m6 0h1m2 0h1m6 0h1m5 0h1m2 0h1m2 0h1m1 0h1m2 0h1m3 0h1m4 0h1m5 0h1m-41 1h2m9 0h1m11 0h4m2 0h1m2 0h1m4 0h2m1 0h1m8 0h2m-62 1h1m10 0h1m14 0h1m2 0h1m10 0h2m1 0h1m-52 1h1m2 0h1m2 0h1m2 0h1m4 0h1m1 0h1m16 0h1m3 0h1m2 0h1m3 0h1m3 0h2m5 0h4m-53 1h1m1 0h1m4 0h2m6 0h1m2 0h1m5 0h1m10 0h1m1 0h2m4 0h3m2 0h2m7 0h1m-59 1h1m12 0h1m2 0h1m3 0h1m1 0h1m3 0h2m5 0h2m1 0h1m8 0h1m4 0h1m1 0h2m1 0h1m-61 1h2m1 0h1m6 0h1m14 0h2m1 0h1m7 0h1m3 0h1m3 0h4m1 0h1m3 0h2m15 0h1m-71 1h1m8 0h2m1 0h1m2 0h1m6 0h1m1 0h1m2 0h1m2 0h1m11 0h2m3 0h1m5 0h2m-47 1h1m2 0h1m2 0h1m5 0h1m18 0h2m2 0h1m4 0h3m3 0h1m5 0h1m-50 1h1m5 0h1m10 0h1m13 0h4m4 0h1m2 0h1m8 0h1m-63 1h1m12 0h1m8 0h1m4 0h1m12 0h3m4 0h1m1 0h2m3 0h4m5 0h2m-55 1h1m7 0h1m3 0h1m17 0h2m2 0h1m1 0h2m1 0h1m1 0h1m1 0h1m1 0h1m2 0h1m-30 1h1m10 0h3m4 0h1m2 0h2m3 0h1m1 0h1m4 0h1m-43 1h1m23 0h1m4 0h1m3 0h1m3 0h1m7 0h1m-22 1h1m2 0h1m1 0h5m1 0h1m2 0h1m1 0h1m-22 1h1m5 0h1m1 0h1m9 0h1m1 0h1m2 0h1m1 0h1m-24 1h1m2 0h2m1 0h1m5 0h2m10 0h1m-25 1h1m2 0h1m3 0h2m7 0h2m-16 1h1m3 0h1m2 0h5m-19 1h2m5 0h5m2 0h2m2 0h1m-14 1h1m6 0h3m1 0h1m1 0h2m5 0h1m-26 1h1m8 0h1m2 0h1m3 0h1m1 0h2m6 0h1m-25 1h1m2 0h1m2 0h1m1 0h8m1 0h1m-22 1h1m1 0h1m9 0h1m4 0h1m1 0h1m1 0h1m1 0h1m-31 1h1m4 0h1m14 0h1m4 0h2m-18 1h1m3 0h1m6 0h1m5 0h1m1 0h2m2 0h2m4 0h1m-36 1h1m15 0h2m1 0h2m1 0h3m1 0h1m-22 1h1m7 0h1m10 0h1m-13 1h1m1 0h2m1 0h3m3 0h1m2 0h3m-16 1h1m1 0h1m1 0h1m1 0h1m3 0h1m3 0h1m4 0h1m-24 1h1m1 0h1m1 0h1m6 0h1m1 0h1m1 0h1m1 0h1m-16 1h2m3 0h2m6 0h1m3 0h1m-14 1h2m1 0h1m3 0h1m-10 1h2m1 0h1m5 0h2m8 0h1m1 0h1m-20 1h1m4 0h1m-11 1h1m4 0h1m1 0h4m3 0h1m2 0h1m-19 1h1m3 0h1m1 0h3m5 0h2m5 0h1m-20 1h1m22 0h1m-15 1h1m4 0h1m6 0h1m4 0h1m-15 1h1m10 0h1m-25 1h1m3 0h1m2 0h1" stroke="#333" stroke-width="1" fill="none" transform="translate(0 .5)" shape-rendering="crispEdges"/>
<g filter="url(#b10)"><path d="M27 759 L46 758.5 C54 759 57 766 56.5 773 C56 781 52 787.5 46 787.5 L27 787.5 Z" fill="#000"/>
<path d="M75 759 C82 756 91 759 91.5 768 C92 777 89 787 84 792 C80 795 77 794 76 790 C73 783 70.5 773 70.8 766 C71 762 72.5 760 75 759 Z" fill="#000"/></g>
<rect x="28.5" y="788" width="18" height="11.5" fill="#fff"/>
<path d="M28 700H126 M28 700V800 M65 700V800 M28 750.5H126" stroke="#222" stroke-width="1.3" fill="none"/>
<path d="M28 800H111" stroke="#444" stroke-width="1"/>
<path d="M29.0 800.0L29.0 802.0M33.0 800.0L33.0 802.0M37.0 800.0L37.0 802.0M41.0 800.0L41.0 802.0M45.0 800.0L45.0 802.0M49.0 800.0L49.0 802.0M53.0 800.0L53.0 802.0M57.0 800.0L57.0 802.0M61.0 800.0L61.0 802.0M65.0 800.0L65.0 802.0M69.0 800.0L69.0 802.0M73.0 800.0L73.0 802.0M77.0 800.0L77.0 802.0M81.0 800.0L81.0 802.0M85.0 800.0L85.0 802.0M89.0 800.0L89.0 802.0M93.0 800.0L93.0 802.0M97.0 800.0L97.0 802.0M101.0 800.0L101.0 802.0M105.0 800.0L105.0 802.0M109.0 800.0L109.0 802.0M113.0 800.0L113.0 802.0M117.0 800.0L117.0 802.0M121.0 800.0L121.0 802.0M25.5 702.0L28.0 702.0M25.5 706.2L28.0 706.2M25.5 710.4L28.0 710.4M25.5 714.6L28.0 714.6M25.5 718.8L28.0 718.8M25.5 723.0L28.0 723.0M25.5 727.2L28.0 727.2M25.5 731.4L28.0 731.4M25.5 735.6L28.0 735.6M25.5 739.8L28.0 739.8M25.5 744.0L28.0 744.0M25.5 748.2L28.0 748.2M25.5 752.4L28.0 752.4M25.5 756.6L28.0 756.6M25.5 760.8L28.0 760.8M25.5 765.0L28.0 765.0M25.5 769.2L28.0 769.2M25.5 773.4L28.0 773.4M25.5 777.6L28.0 777.6M25.5 781.8L28.0 781.8M25.5 786.0L28.0 786.0M25.5 790.2L28.0 790.2M25.5 794.4L28.0 794.4M25.5 798.6L28.0 798.6" stroke="#444" stroke-width="0.7" fill="none"/>
<text x="28.7" y="808.5" font-size="4.5" text-anchor="middle" fill="#000" >10<tspan font-size="3.5" dy="-2">0</tspan></text>
<text transform="translate(23,800.0) rotate(-90)" font-size="4.5" text-anchor="middle">10<tspan font-size="3.5" dy="-2">0</tspan></text>
<text x="52.7" y="808.5" font-size="4.5" text-anchor="middle" fill="#000" >10<tspan font-size="3.5" dy="-2">1</tspan></text>
<text transform="translate(23,775.0) rotate(-90)" font-size="4.5" text-anchor="middle">10<tspan font-size="3.5" dy="-2">1</tspan></text>
<text x="76.7" y="808.5" font-size="4.5" text-anchor="middle" fill="#000" >10<tspan font-size="3.5" dy="-2">2</tspan></text>
<text transform="translate(23,750.0) rotate(-90)" font-size="4.5" text-anchor="middle">10<tspan font-size="3.5" dy="-2">2</tspan></text>
<text x="100.7" y="808.5" font-size="4.5" text-anchor="middle" fill="#000" >10<tspan font-size="3.5" dy="-2">3</tspan></text>
<text transform="translate(23,725.0) rotate(-90)" font-size="4.5" text-anchor="middle">10<tspan font-size="3.5" dy="-2">3</tspan></text>
<text x="124.7" y="808.5" font-size="4.5" text-anchor="middle" fill="#000" >10<tspan font-size="3.5" dy="-2">4</tspan></text>
<text transform="translate(23,700.0) rotate(-90)" font-size="4.5" text-anchor="middle">10<tspan font-size="3.5" dy="-2">4</tspan></text>
<text transform="translate(30.61,710.50) scale(1.035,1)" font-size="9.32" >0.4</text>
<text transform="translate(109.99,710.50) scale(1.110,1)" font-size="9.32" >0.9</text>
<text transform="translate(30.38,797.80) scale(1.087,1)" font-size="9.61" >59</text>
<text transform="translate(104.62,798.20) scale(1.045,1)" font-size="9.75" >39.8</text>
<text transform="translate(44.32,677.20) scale(1.111,1)" font-size="14.05" >CMV Ag</text>
<text transform="translate(43.84,693.90) scale(1.099,1)" font-size="13.91" >Pre sort</text>
<text transform="translate(13.00,767.17) rotate(-90) scale(0.951,1)" font-size="13.26" >IFN&#947;</text>
<text transform="translate(27.53,819.50) scale(1.093,1)" font-size="12.33" >CD4</text>
<path d="M56 815.8H243.0" stroke="#000" stroke-width="2.4"/>
<path d="M242.0 810.5L253.5 815.8L242.0 821.0999999999999Z" fill="#000"/>
<path d="M202 700h1m8 0h1m-11 2h1m5 2h1m-7 2h1m8 0h1m-15 2h1m4 0h1m7 1h1m-7 1h1m4 0h1m-16 1h1m9 0h1m2 0h4m-10 1h1m7 0h1m1 0h1m10 0h1m-20 1h2m1 0h1m1 0h1m2 0h1m1 0h1m-14 1h1m1 0h1m6 0h1m1 0h3m-16 1h2m8 0h1m1 0h3m3 0h1m-20 1h2m4 0h4m1 0h3m-8 1h1m1 0h3m1 0h1m5 0h1m3 0h1m-20 1h1m4 0h1m3 0h1m4 0h1m-16 1h1m3 0h1m2 0h2m1 0h1m-11 1h2m1 0h1m1 0h1m2 0h5m-11 1h2m4 0h1m4 0h1m1 0h2m-17 1h3m2 0h1m1 0h1m2 0h1m-12 1h1m1 0h3m3 0h3m3 0h1m-13 1h1m2 0h1m3 0h8m4 0h1m5 0h1m-24 1h2m2 0h3m1 0h2m4 0h2m-16 1h2m1 0h6m1 0h2m12 0h1m-26 1h2m1 0h4m1 0h3m-14 1h13m2 0h1m6 0h1m-24 1h3m1 0h3m1 0h9m2 0h1m-16 1h1m1 0h11m1 0h1m1 0h1m-26 1h1m4 0h19m2 0h1m-21 1h19m-20 1h1m1 0h1m1 0h15m2 0h1m-22 1h3m1 0h14m2 0h1m-22 1h2m2 0h15m1 0h2m-20 1h19m-17 1h17m1 0h2m-21 1h19m1 0h1m1 0h1m-22 1h17m-20 1h2m1 0h19m2 0h1m-22 1h11m1 0h4m-19 1h2m1 0h14m2 0h1m1 0h1m1 0h1m-24 1h2m1 0h13m1 0h2m1 0h1m-20 1h1m2 0h4m1 0h1m1 0h5m1 0h2m3 0h1m-19 1h1m2 0h1m1 0h4m1 0h4m1 0h1m-17 1h1m1 0h2m1 0h2m1 0h2m2 0h2m-15 1h1m1 0h1m3 0h1m1 0h1m1 0h1" stroke="#222" stroke-width="1" fill="none" transform="translate(0 .5)" shape-rendering="crispEdges"/>
<path d="M200 700h1m2 2h1m-4 2h1m-5 1h1m15 1h1m-23 1h1m10 0h1m3 0h1m-14 1h1m9 2h1m3 0h1m4 0h1m-9 1h1m1 0h1m3 0h1m-17 1h1m6 0h1m5 0h1m3 0h1m2 0h1m-19 1h1m6 0h1m-8 1h1m18 0h1m-10 2h1m-9 1h1m3 0h1m2 0h1m2 0h2m2 0h1m-18 1h1m11 0h1m-1 1h1m4 0h1m2 0h1m-15 1h1m2 0h2m6 0h1m2 0h1m-25 2h1m10 0h1m3 0h1m-3 1h1m-5 1h1m5 0h4m2 0h1m-14 1h1m7 0h1m2 0h1m-16 1h1m5 0h1m1 0h1m0 1h2m-3 1h2m1 0h2m1 0h1m1 0h2m-17 1h1m11 0h1m1 0h2m4 0h1m-21 1h1m1 0h1m3 0h1m6 0h1m1 0h1m-16 1h1m5 0h1m9 0h1m4 0h1m4 0h1m-23 1h1m1 0h1m1 0h2m-6 1h1m3 0h1m8 0h1m-23 1h1m15 0h1m0 1h2m1 0h1m11 0h1m-28 1h1m3 0h2m1 0h1m3 0h2m-3 1h1m-13 1h1m3 0h1m3 0h1m4 0h1m1 0h1m1 0h2m-16 1h2m7 0h1m2 0h1m-2 1h1m-5 1h1m1 0h1m3 0h1m-15 1h1m8 0h1m1 0h2m-5 1h1m-10 1h2m1 0h1m1 1h1m4 0h1m-2 3h1m16 4h1m-15 1h1m-6 8h1m7 9h1" stroke="#999" stroke-width="1" fill="none" transform="translate(0 .5)" shape-rendering="crispEdges"/>
<path d="M156 699H253 M156 699V799 M191.7 699V799 M156 749H253" stroke="#222" stroke-width="1.3" fill="none"/>
<path d="M157.0 798.5L157.0 800.5M153.5 700.0L156.0 700.0M153.5 704.2L156.0 704.2M165.0 798.5L165.0 800.5M153.5 708.4L156.0 708.4M169.0 798.5L169.0 800.5M153.5 712.6L156.0 712.6M153.5 716.8L156.0 716.8M177.0 798.5L177.0 800.5M153.5 721.0L156.0 721.0M181.0 798.5L181.0 800.5M153.5 725.2L156.0 725.2M153.5 729.4L156.0 729.4M189.0 798.5L189.0 800.5M153.5 733.6L156.0 733.6M193.0 798.5L193.0 800.5M153.5 737.8L156.0 737.8M153.5 742.0L156.0 742.0M201.0 798.5L201.0 800.5M153.5 746.2L156.0 746.2M205.0 798.5L205.0 800.5M153.5 750.4L156.0 750.4M153.5 754.6L156.0 754.6M213.0 798.5L213.0 800.5M153.5 758.8L156.0 758.8M217.0 798.5L217.0 800.5M153.5 763.0L156.0 763.0M153.5 767.2L156.0 767.2M225.0 798.5L225.0 800.5M153.5 771.4L156.0 771.4M229.0 798.5L229.0 800.5M153.5 775.6L156.0 775.6M153.5 779.8L156.0 779.8M237.0 798.5L237.0 800.5M153.5 784.0L156.0 784.0M241.0 798.5L241.0 800.5M153.5 788.2L156.0 788.2M153.5 792.4L156.0 792.4M249.0 798.5L249.0 800.5M153.5 796.6L156.0 796.6" stroke="#444" stroke-width="0.7" fill="none"/>
<text x="157.7" y="807.5" font-size="4.5" text-anchor="middle" fill="#000" >10<tspan font-size="3.5" dy="-2">0</tspan></text>
<text transform="translate(151,798.0) rotate(-90)" font-size="4.5" text-anchor="middle">10<tspan font-size="3.5" dy="-2">0</tspan></text>
<text x="181.3" y="807.5" font-size="4.5" text-anchor="middle" fill="#000" >10<tspan font-size="3.5" dy="-2">1</tspan></text>
<text transform="translate(151,773.5) rotate(-90)" font-size="4.5" text-anchor="middle">10<tspan font-size="3.5" dy="-2">1</tspan></text>
<text x="204.9" y="807.5" font-size="4.5" text-anchor="middle" fill="#000" >10<tspan font-size="3.5" dy="-2">2</tspan></text>
<text transform="translate(151,749.0) rotate(-90)" font-size="4.5" text-anchor="middle">10<tspan font-size="3.5" dy="-2">2</tspan></text>
<text x="228.5" y="807.5" font-size="4.5" text-anchor="middle" fill="#000" >10<tspan font-size="3.5" dy="-2">3</tspan></text>
<text transform="translate(151,724.5) rotate(-90)" font-size="4.5" text-anchor="middle">10<tspan font-size="3.5" dy="-2">3</tspan></text>
<text x="252.1" y="807.5" font-size="4.5" text-anchor="middle" fill="#000" >10<tspan font-size="3.5" dy="-2">4</tspan></text>
<text transform="translate(151,700.0) rotate(-90)" font-size="4.5" text-anchor="middle">10<tspan font-size="3.5" dy="-2">4</tspan></text>
<text transform="translate(158.76,710.50) scale(1.140,1)" font-size="9.61" >0.08</text>
<text transform="translate(232.45,710.50) scale(0.996,1)" font-size="9.61" >99.1</text>
<text transform="translate(158.79,797.50) scale(1.077,1)" font-size="9.61" >0.05</text>
<text transform="translate(237.61,797.50) scale(1.009,1)" font-size="9.61" >0.7</text>
<text transform="translate(170.72,676.20) scale(1.150,1)" font-size="13.62" >CMV Ag</text>
<text transform="translate(170.23,693.90) scale(1.110,1)" font-size="13.91" >Post sort</text>
</g></svg></body></html>
